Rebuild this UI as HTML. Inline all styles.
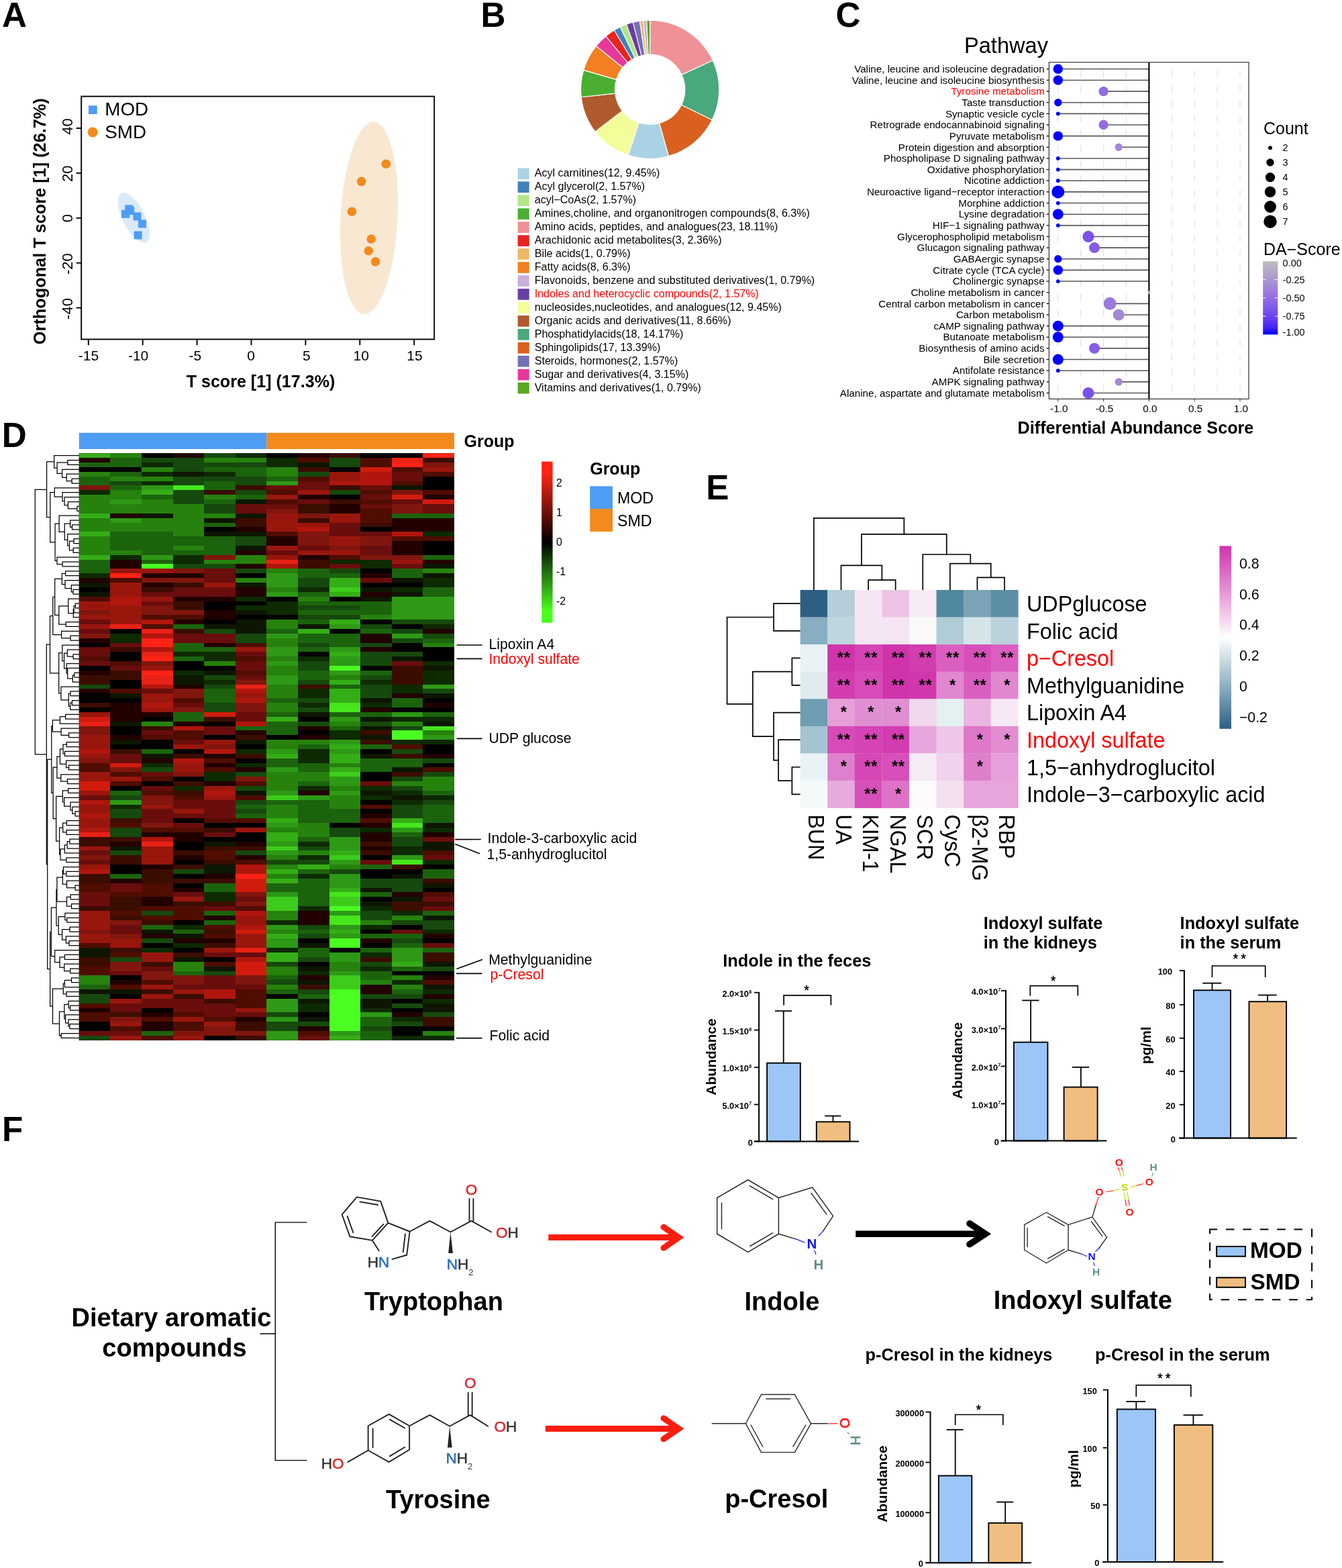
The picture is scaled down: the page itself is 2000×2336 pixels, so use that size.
<!DOCTYPE html>
<html lang="en"><head><meta charset="utf-8"><title>Figure</title>
<style>
html,body{margin:0;padding:0;background:#fff;}
body{width:2000px;height:2336px;overflow:hidden;}
svg{display:block;font-family:"Liberation Sans",sans-serif;}
</style></head><body>
<svg width="2000" height="2336" viewBox="0 0 2000 2336">
<rect width="2000" height="2336" fill="#fff"/>
<text x="3.10" y="40.10" font-size="51.2" font-weight="bold">A</text>
<text x="716.50" y="40.30" font-size="51.2" font-weight="bold">B</text>
<text x="1245.60" y="40.20" font-size="51.2" font-weight="bold">C</text>
<text x="2.70" y="666.30" font-size="51.2" font-weight="bold">D</text>
<text x="1052.30" y="744.10" font-size="51.2" font-weight="bold">E</text>
<text x="3.10" y="1700.10" font-size="51.2" font-weight="bold">F</text>
<g id="panelA"><ellipse cx="199.3" cy="324.4" rx="41" ry="16.5" fill="#d9eafa" transform="rotate(63 199.3 324.4)"/>
<ellipse cx="550" cy="324.8" rx="42.5" ry="143.5" fill="#f8e8d2" transform="rotate(3 550 324.8)"/>
<rect x="121.20" y="143.60" width="526.00" height="361.90" fill="none" stroke="#000" stroke-width="1.9"/>
<line x1="131.80" y1="505.50" x2="131.80" y2="514.30" stroke="#000" stroke-width="1.9"/>
<text x="131.90" y="536.70" font-size="21" text-anchor="middle">-15</text>
<line x1="212.70" y1="505.50" x2="212.70" y2="514.30" stroke="#000" stroke-width="1.9"/>
<text x="206.10" y="536.70" font-size="21" text-anchor="middle">-10</text>
<line x1="293.60" y1="505.50" x2="293.60" y2="514.30" stroke="#000" stroke-width="1.9"/>
<text x="290.90" y="536.70" font-size="21" text-anchor="middle">-5</text>
<line x1="374.50" y1="505.50" x2="374.50" y2="514.30" stroke="#000" stroke-width="1.9"/>
<text x="374.00" y="536.70" font-size="21" text-anchor="middle">0</text>
<line x1="455.40" y1="505.50" x2="455.40" y2="514.30" stroke="#000" stroke-width="1.9"/>
<text x="456.90" y="536.70" font-size="21" text-anchor="middle">5</text>
<line x1="536.30" y1="505.50" x2="536.30" y2="514.30" stroke="#000" stroke-width="1.9"/>
<text x="538.30" y="536.70" font-size="21" text-anchor="middle">10</text>
<line x1="617.20" y1="505.50" x2="617.20" y2="514.30" stroke="#000" stroke-width="1.9"/>
<text x="618.00" y="536.70" font-size="21" text-anchor="middle">15</text>
<line x1="113.60" y1="458.60" x2="121.20" y2="458.60" stroke="#000" stroke-width="1.9"/>
<text x="107.80" y="460.00" font-size="22" text-anchor="middle" transform="rotate(-90 107.80 460.00)">-40</text>
<line x1="113.60" y1="391.70" x2="121.20" y2="391.70" stroke="#000" stroke-width="1.9"/>
<text x="107.80" y="393.10" font-size="22" text-anchor="middle" transform="rotate(-90 107.80 393.10)">-20</text>
<line x1="113.60" y1="324.80" x2="121.20" y2="324.80" stroke="#000" stroke-width="1.9"/>
<text x="107.80" y="325.20" font-size="22" text-anchor="middle" transform="rotate(-90 107.80 325.20)">0</text>
<line x1="113.60" y1="257.90" x2="121.20" y2="257.90" stroke="#000" stroke-width="1.9"/>
<text x="107.80" y="258.70" font-size="22" text-anchor="middle" transform="rotate(-90 107.80 258.70)">20</text>
<line x1="113.60" y1="191.00" x2="121.20" y2="191.00" stroke="#000" stroke-width="1.9"/>
<text x="107.80" y="188.60" font-size="22" text-anchor="middle" transform="rotate(-90 107.80 188.60)">40</text>
<text x="388.50" y="577.00" font-size="25.1" text-anchor="middle" font-weight="bold">T score [1] (17.3%)</text>
<text x="67.60" y="329.70" font-size="25.3" text-anchor="middle" font-weight="bold" transform="rotate(-90 67.60 329.70)">Orthogonal T score [1] (26.7%)</text>
<rect x="132.00" y="157.30" width="12.70" height="12.70" fill="#4f9cf5"/>
<text x="156.30" y="171.90" font-size="27.8">MOD</text>
<circle cx="138.20" cy="197.00" r="7.60" fill="#f28a1e"/>
<text x="156.30" y="205.90" font-size="27.8">SMD</text>
<rect x="186.19" y="305.37" width="12.00" height="12.00" fill="#4f9cf5"/>
<rect x="181.06" y="312.86" width="12.00" height="12.00" fill="#4f9cf5"/>
<rect x="198.42" y="316.42" width="12.00" height="12.00" fill="#4f9cf5"/>
<rect x="205.92" y="327.46" width="12.00" height="12.00" fill="#4f9cf5"/>
<rect x="199.60" y="344.43" width="12.00" height="12.00" fill="#4f9cf5"/>
<rect x="188.16" y="308.13" width="12.00" height="12.00" fill="#4f9cf5"/>
<circle cx="575.37" cy="244.28" r="6.80" fill="#f28a1e"/>
<circle cx="538.67" cy="270.32" r="6.80" fill="#f28a1e"/>
<circle cx="524.47" cy="315.31" r="6.80" fill="#f28a1e"/>
<circle cx="553.28" cy="355.96" r="6.80" fill="#f28a1e"/>
<circle cx="549.33" cy="373.72" r="6.80" fill="#f28a1e"/>
<circle cx="559.59" cy="389.90" r="6.80" fill="#f28a1e"/></g>
<g id="panelB"><path d="M968.70 30.20A103.1 103.1 0 0 1 1062.29 90.05L1016.08 111.40A52.2 52.2 0 0 0 968.70 81.10Z" fill="#ef9298" stroke="#fff" stroke-width="1.1" stroke-linejoin="round"/>
<path d="M1062.29 90.05A103.1 103.1 0 0 1 1061.19 178.85L1015.53 156.36A52.2 52.2 0 0 0 1016.08 111.40Z" fill="#49a87c" stroke="#fff" stroke-width="1.1" stroke-linejoin="round"/>
<path d="M1061.19 178.85A103.1 103.1 0 0 1 996.41 232.61L982.73 183.58A52.2 52.2 0 0 0 1015.53 156.36Z" fill="#d9601f" stroke="#fff" stroke-width="1.1" stroke-linejoin="round"/>
<path d="M996.41 232.61A103.1 103.1 0 0 1 936.11 231.11L952.20 182.82A52.2 52.2 0 0 0 982.73 183.58Z" fill="#a9d3e5" stroke="#fff" stroke-width="1.1" stroke-linejoin="round"/>
<path d="M936.11 231.11A103.1 103.1 0 0 1 886.97 196.15L927.32 165.12A52.2 52.2 0 0 0 952.20 182.82Z" fill="#f3fd9a" stroke="#fff" stroke-width="1.1" stroke-linejoin="round"/>
<path d="M886.97 196.15A103.1 103.1 0 0 1 866.24 144.75L916.82 139.10A52.2 52.2 0 0 0 927.32 165.12Z" fill="#b05a2d" stroke="#fff" stroke-width="1.1" stroke-linejoin="round"/>
<path d="M866.24 144.75A103.1 103.1 0 0 1 869.74 104.36L918.60 118.65A52.2 52.2 0 0 0 916.82 139.10Z" fill="#4bae33" stroke="#fff" stroke-width="1.1" stroke-linejoin="round"/>
<path d="M869.74 104.36A103.1 103.1 0 0 1 888.55 68.45L928.12 100.47A52.2 52.2 0 0 0 918.60 118.65Z" fill="#f27f21" stroke="#fff" stroke-width="1.1" stroke-linejoin="round"/>
<path d="M888.55 68.45A103.1 103.1 0 0 1 902.86 53.96L935.37 93.13A52.2 52.2 0 0 0 928.12 100.47Z" fill="#e7379a" stroke="#fff" stroke-width="1.1" stroke-linejoin="round"/>
<path d="M902.86 53.96A103.1 103.1 0 0 1 915.32 45.09L941.67 88.64A52.2 52.2 0 0 0 935.37 93.13Z" fill="#e8241f" stroke="#fff" stroke-width="1.1" stroke-linejoin="round"/>
<path d="M915.32 45.09A103.1 103.1 0 0 1 924.30 40.25L946.22 86.19A52.2 52.2 0 0 0 941.67 88.64Z" fill="#4282b9" stroke="#fff" stroke-width="1.1" stroke-linejoin="round"/>
<path d="M924.30 40.25A103.1 103.1 0 0 1 933.70 36.32L950.98 84.20A52.2 52.2 0 0 0 946.22 86.19Z" fill="#b3e687" stroke="#fff" stroke-width="1.1" stroke-linejoin="round"/>
<path d="M933.70 36.32A103.1 103.1 0 0 1 943.46 33.34L955.92 82.69A52.2 52.2 0 0 0 950.98 84.20Z" fill="#6a3ea3" stroke="#fff" stroke-width="1.1" stroke-linejoin="round"/>
<path d="M943.46 33.34A103.1 103.1 0 0 1 953.45 31.33L960.98 81.67A52.2 52.2 0 0 0 955.92 82.69Z" fill="#7570b8" stroke="#fff" stroke-width="1.1" stroke-linejoin="round"/>
<path d="M953.45 31.33A103.1 103.1 0 0 1 958.52 30.70L963.54 81.36A52.2 52.2 0 0 0 960.98 81.67Z" fill="#ecb968" stroke="#fff" stroke-width="1.1" stroke-linejoin="round"/>
<path d="M958.52 30.70A103.1 103.1 0 0 1 963.60 30.33L966.12 81.16A52.2 52.2 0 0 0 963.54 81.36Z" fill="#c9b0db" stroke="#fff" stroke-width="1.1" stroke-linejoin="round"/>
<path d="M963.60 30.33A103.1 103.1 0 0 1 968.70 30.20L968.70 81.10A52.2 52.2 0 0 0 966.12 81.16Z" fill="#5aa81f" stroke="#fff" stroke-width="1.1" stroke-linejoin="round"/>
<rect x="771.60" y="250.50" width="17.10" height="16.60" fill="#a9d3e5"/>
<text x="796.70" y="263.30" font-size="16.08">Acyl carnitines(12, 9.45%)</text>
<rect x="771.60" y="270.46" width="17.10" height="16.60" fill="#4282b9"/>
<text x="796.70" y="283.26" font-size="16.08">Acyl glycerol(2, 1.57%)</text>
<rect x="771.60" y="290.42" width="17.10" height="16.60" fill="#b3e687"/>
<text x="796.70" y="303.22" font-size="16.08">acyl−CoAs(2, 1.57%)</text>
<rect x="771.60" y="310.38" width="17.10" height="16.60" fill="#4bae33"/>
<text x="796.70" y="323.18" font-size="16.08">Amines,choline, and organonitrogen compounds(8, 6.3%)</text>
<rect x="771.60" y="330.34" width="17.10" height="16.60" fill="#ef9298"/>
<text x="796.70" y="343.14" font-size="16.08">Amino acids, peptides, and analogues(23, 18.11%)</text>
<rect x="771.60" y="350.30" width="17.10" height="16.60" fill="#e8241f"/>
<text x="796.70" y="363.10" font-size="16.08">Arachidonic acid metabolites(3, 2.36%)</text>
<rect x="771.60" y="370.26" width="17.10" height="16.60" fill="#ecb968"/>
<text x="796.70" y="383.06" font-size="16.08">Bile acids(1, 0.79%)</text>
<rect x="771.60" y="390.22" width="17.10" height="16.60" fill="#f27f21"/>
<text x="796.70" y="403.02" font-size="16.08">Fatty acids(8, 6.3%)</text>
<rect x="771.60" y="410.18" width="17.10" height="16.60" fill="#c9b0db"/>
<text x="796.70" y="422.98" font-size="16.08">Flavonoids, benzene and substituted derivatives(1, 0.79%)</text>
<rect x="771.60" y="430.14" width="17.10" height="16.60" fill="#6a3ea3"/>
<text x="796.70" y="442.94" font-size="16.08" fill="#f00">Indoles and heterocyclic compounds(2, 1.57%)</text>
<rect x="771.60" y="450.10" width="17.10" height="16.60" fill="#f3fd9a"/>
<text x="796.70" y="462.90" font-size="16.08">nucleosides,nucleotides, and analogues(12, 9.45%)</text>
<rect x="771.60" y="470.06" width="17.10" height="16.60" fill="#b05a2d"/>
<text x="796.70" y="482.86" font-size="16.08">Organic acids and derivatives(11, 8.66%)</text>
<rect x="771.60" y="490.02" width="17.10" height="16.60" fill="#49a87c"/>
<text x="796.70" y="502.82" font-size="16.08">Phosphatidylacids(18, 14.17%)</text>
<rect x="771.60" y="509.98" width="17.10" height="16.60" fill="#d9601f"/>
<text x="796.70" y="522.78" font-size="16.08">Sphingolipids(17, 13.39%)</text>
<rect x="771.60" y="529.94" width="17.10" height="16.60" fill="#7570b8"/>
<text x="796.70" y="542.74" font-size="16.08">Steroids, hormones(2, 1.57%)</text>
<rect x="771.60" y="549.90" width="17.10" height="16.60" fill="#e7379a"/>
<text x="796.70" y="562.70" font-size="16.08">Sugar and derivatives(4, 3.15%)</text>
<rect x="771.60" y="569.86" width="17.10" height="16.60" fill="#5aa81f"/>
<text x="796.70" y="582.66" font-size="16.08">Vitamins and derivatives(1, 0.79%)</text></g>
<g id="panelC"><text x="1437.00" y="79.00" font-size="32.6">Pathway</text>
<line x1="1576.80" y1="105.30" x2="1576.80" y2="594.40" stroke="#dcdcdc" stroke-width="1" stroke-dasharray="10.5 11.7"/>
<line x1="1610.70" y1="105.30" x2="1610.70" y2="594.40" stroke="#dcdcdc" stroke-width="1" stroke-dasharray="10.5 11.7"/>
<line x1="1644.60" y1="105.30" x2="1644.60" y2="594.40" stroke="#dcdcdc" stroke-width="1" stroke-dasharray="10.5 11.7"/>
<line x1="1678.50" y1="105.30" x2="1678.50" y2="594.40" stroke="#dcdcdc" stroke-width="1" stroke-dasharray="10.5 11.7"/>
<line x1="1746.30" y1="105.30" x2="1746.30" y2="594.40" stroke="#dcdcdc" stroke-width="1" stroke-dasharray="10.5 11.7"/>
<line x1="1780.20" y1="105.30" x2="1780.20" y2="594.40" stroke="#dcdcdc" stroke-width="1" stroke-dasharray="10.5 11.7"/>
<line x1="1814.10" y1="105.30" x2="1814.10" y2="594.40" stroke="#dcdcdc" stroke-width="1" stroke-dasharray="10.5 11.7"/>
<line x1="1848.00" y1="105.30" x2="1848.00" y2="594.40" stroke="#dcdcdc" stroke-width="1" stroke-dasharray="10.5 11.7"/>
<line x1="1559.60" y1="102.80" x2="1563.40" y2="102.80" stroke="#111" stroke-width="1.3"/>
<text x="1556.60" y="108.00" font-size="15.2" text-anchor="end">Valine, leucine and isoleucine degradation</text>
<line x1="1576.80" y1="102.80" x2="1712.40" y2="102.80" stroke="#595959" stroke-width="1.6"/>
<line x1="1559.60" y1="119.44" x2="1563.40" y2="119.44" stroke="#111" stroke-width="1.3"/>
<text x="1556.60" y="124.64" font-size="15.2" text-anchor="end">Valine, leucine and isoleucine biosynthesis</text>
<line x1="1576.80" y1="119.44" x2="1712.40" y2="119.44" stroke="#595959" stroke-width="1.6"/>
<line x1="1559.60" y1="136.09" x2="1563.40" y2="136.09" stroke="#111" stroke-width="1.3"/>
<text x="1556.60" y="141.29" font-size="15.2" text-anchor="end" fill="#f00">Tyrosine metabolism</text>
<line x1="1644.60" y1="136.09" x2="1712.40" y2="136.09" stroke="#595959" stroke-width="1.6"/>
<line x1="1559.60" y1="152.74" x2="1563.40" y2="152.74" stroke="#111" stroke-width="1.3"/>
<text x="1556.60" y="157.94" font-size="15.2" text-anchor="end">Taste transduction</text>
<line x1="1576.80" y1="152.74" x2="1712.40" y2="152.74" stroke="#595959" stroke-width="1.6"/>
<line x1="1559.60" y1="169.38" x2="1563.40" y2="169.38" stroke="#111" stroke-width="1.3"/>
<text x="1556.60" y="174.58" font-size="15.2" text-anchor="end">Synaptic vesicle cycle</text>
<line x1="1576.80" y1="169.38" x2="1712.40" y2="169.38" stroke="#595959" stroke-width="1.6"/>
<line x1="1559.60" y1="186.02" x2="1563.40" y2="186.02" stroke="#111" stroke-width="1.3"/>
<text x="1556.60" y="191.22" font-size="15.2" text-anchor="end">Retrograde endocannabinoid signaling</text>
<line x1="1644.60" y1="186.02" x2="1712.40" y2="186.02" stroke="#595959" stroke-width="1.6"/>
<line x1="1559.60" y1="202.67" x2="1563.40" y2="202.67" stroke="#111" stroke-width="1.3"/>
<text x="1556.60" y="207.87" font-size="15.2" text-anchor="end">Pyruvate metabolism</text>
<line x1="1576.80" y1="202.67" x2="1712.40" y2="202.67" stroke="#595959" stroke-width="1.6"/>
<line x1="1559.60" y1="219.31" x2="1563.40" y2="219.31" stroke="#111" stroke-width="1.3"/>
<text x="1556.60" y="224.51" font-size="15.2" text-anchor="end">Protein digestion and absorption</text>
<line x1="1667.25" y1="219.31" x2="1712.40" y2="219.31" stroke="#595959" stroke-width="1.6"/>
<line x1="1559.60" y1="235.96" x2="1563.40" y2="235.96" stroke="#111" stroke-width="1.3"/>
<text x="1556.60" y="241.16" font-size="15.2" text-anchor="end">Phospholipase D signaling pathway</text>
<line x1="1576.80" y1="235.96" x2="1712.40" y2="235.96" stroke="#595959" stroke-width="1.6"/>
<line x1="1559.60" y1="252.61" x2="1563.40" y2="252.61" stroke="#111" stroke-width="1.3"/>
<text x="1556.60" y="257.81" font-size="15.2" text-anchor="end">Oxidative phosphorylation</text>
<line x1="1576.80" y1="252.61" x2="1712.40" y2="252.61" stroke="#595959" stroke-width="1.6"/>
<line x1="1559.60" y1="269.25" x2="1563.40" y2="269.25" stroke="#111" stroke-width="1.3"/>
<text x="1556.60" y="274.45" font-size="15.2" text-anchor="end">Nicotine addiction</text>
<line x1="1576.80" y1="269.25" x2="1712.40" y2="269.25" stroke="#595959" stroke-width="1.6"/>
<line x1="1559.60" y1="285.89" x2="1563.40" y2="285.89" stroke="#111" stroke-width="1.3"/>
<text x="1556.60" y="291.09" font-size="15.2" text-anchor="end">Neuroactive ligand−receptor interaction</text>
<line x1="1576.80" y1="285.89" x2="1712.40" y2="285.89" stroke="#595959" stroke-width="1.6"/>
<line x1="1559.60" y1="302.54" x2="1563.40" y2="302.54" stroke="#111" stroke-width="1.3"/>
<text x="1556.60" y="307.74" font-size="15.2" text-anchor="end">Morphine addiction</text>
<line x1="1576.80" y1="302.54" x2="1712.40" y2="302.54" stroke="#595959" stroke-width="1.6"/>
<line x1="1559.60" y1="319.19" x2="1563.40" y2="319.19" stroke="#111" stroke-width="1.3"/>
<text x="1556.60" y="324.38" font-size="15.2" text-anchor="end">Lysine degradation</text>
<line x1="1576.80" y1="319.19" x2="1712.40" y2="319.19" stroke="#595959" stroke-width="1.6"/>
<line x1="1559.60" y1="335.83" x2="1563.40" y2="335.83" stroke="#111" stroke-width="1.3"/>
<text x="1556.60" y="341.03" font-size="15.2" text-anchor="end">HIF−1 signaling pathway</text>
<line x1="1576.80" y1="335.83" x2="1712.40" y2="335.83" stroke="#595959" stroke-width="1.6"/>
<line x1="1559.60" y1="352.47" x2="1563.40" y2="352.47" stroke="#111" stroke-width="1.3"/>
<text x="1556.60" y="357.67" font-size="15.2" text-anchor="end">Glycerophospholipid metabolism</text>
<line x1="1621.95" y1="352.47" x2="1712.40" y2="352.47" stroke="#595959" stroke-width="1.6"/>
<line x1="1559.60" y1="369.12" x2="1563.40" y2="369.12" stroke="#111" stroke-width="1.3"/>
<text x="1556.60" y="374.32" font-size="15.2" text-anchor="end">Glucagon signaling pathway</text>
<line x1="1631.04" y1="369.12" x2="1712.40" y2="369.12" stroke="#595959" stroke-width="1.6"/>
<line x1="1559.60" y1="385.76" x2="1563.40" y2="385.76" stroke="#111" stroke-width="1.3"/>
<text x="1556.60" y="390.96" font-size="15.2" text-anchor="end">GABAergic synapse</text>
<line x1="1576.80" y1="385.76" x2="1712.40" y2="385.76" stroke="#595959" stroke-width="1.6"/>
<line x1="1559.60" y1="402.41" x2="1563.40" y2="402.41" stroke="#111" stroke-width="1.3"/>
<text x="1556.60" y="407.61" font-size="15.2" text-anchor="end">Citrate cycle (TCA cycle)</text>
<line x1="1576.80" y1="402.41" x2="1712.40" y2="402.41" stroke="#595959" stroke-width="1.6"/>
<line x1="1559.60" y1="419.06" x2="1563.40" y2="419.06" stroke="#111" stroke-width="1.3"/>
<text x="1556.60" y="424.25" font-size="15.2" text-anchor="end">Cholinergic synapse</text>
<line x1="1576.80" y1="419.06" x2="1712.40" y2="419.06" stroke="#595959" stroke-width="1.6"/>
<line x1="1559.60" y1="435.70" x2="1563.40" y2="435.70" stroke="#111" stroke-width="1.3"/>
<text x="1556.60" y="440.90" font-size="15.2" text-anchor="end">Choline metabolism in cancer</text>
<line x1="1559.60" y1="452.35" x2="1563.40" y2="452.35" stroke="#111" stroke-width="1.3"/>
<text x="1556.60" y="457.55" font-size="15.2" text-anchor="end">Central carbon metabolism in cancer</text>
<line x1="1654.09" y1="452.35" x2="1712.40" y2="452.35" stroke="#595959" stroke-width="1.6"/>
<line x1="1559.60" y1="468.99" x2="1563.40" y2="468.99" stroke="#111" stroke-width="1.3"/>
<text x="1556.60" y="474.19" font-size="15.2" text-anchor="end">Carbon metabolism</text>
<line x1="1667.25" y1="468.99" x2="1712.40" y2="468.99" stroke="#595959" stroke-width="1.6"/>
<line x1="1559.60" y1="485.63" x2="1563.40" y2="485.63" stroke="#111" stroke-width="1.3"/>
<text x="1556.60" y="490.83" font-size="15.2" text-anchor="end">cAMP signaling pathway</text>
<line x1="1576.80" y1="485.63" x2="1712.40" y2="485.63" stroke="#595959" stroke-width="1.6"/>
<line x1="1559.60" y1="502.28" x2="1563.40" y2="502.28" stroke="#111" stroke-width="1.3"/>
<text x="1556.60" y="507.48" font-size="15.2" text-anchor="end">Butanoate metabolism</text>
<line x1="1576.80" y1="502.28" x2="1712.40" y2="502.28" stroke="#595959" stroke-width="1.6"/>
<line x1="1559.60" y1="518.92" x2="1563.40" y2="518.92" stroke="#111" stroke-width="1.3"/>
<text x="1556.60" y="524.12" font-size="15.2" text-anchor="end">Biosynthesis of amino acids</text>
<line x1="1631.04" y1="518.92" x2="1712.40" y2="518.92" stroke="#595959" stroke-width="1.6"/>
<line x1="1559.60" y1="535.57" x2="1563.40" y2="535.57" stroke="#111" stroke-width="1.3"/>
<text x="1556.60" y="540.77" font-size="15.2" text-anchor="end">Bile secretion</text>
<line x1="1576.80" y1="535.57" x2="1712.40" y2="535.57" stroke="#595959" stroke-width="1.6"/>
<line x1="1559.60" y1="552.21" x2="1563.40" y2="552.21" stroke="#111" stroke-width="1.3"/>
<text x="1556.60" y="557.41" font-size="15.2" text-anchor="end">Antifolate resistance</text>
<line x1="1576.80" y1="552.21" x2="1712.40" y2="552.21" stroke="#595959" stroke-width="1.6"/>
<line x1="1559.60" y1="568.86" x2="1563.40" y2="568.86" stroke="#111" stroke-width="1.3"/>
<text x="1556.60" y="574.06" font-size="15.2" text-anchor="end">AMPK signaling pathway</text>
<line x1="1667.25" y1="568.86" x2="1712.40" y2="568.86" stroke="#595959" stroke-width="1.6"/>
<line x1="1559.60" y1="585.50" x2="1563.40" y2="585.50" stroke="#111" stroke-width="1.3"/>
<text x="1556.60" y="590.71" font-size="15.2" text-anchor="end">Alanine, aspartate and glutamate metabolism</text>
<line x1="1621.95" y1="585.50" x2="1712.40" y2="585.50" stroke="#595959" stroke-width="1.6"/>
<line x1="1712.40" y1="92.80" x2="1712.40" y2="594.40" stroke="#000" stroke-width="2.1"/>
<circle cx="1576.80" cy="102.80" r="7.20" fill="#0000ff"/>
<circle cx="1576.80" cy="119.44" r="7.20" fill="#0000ff"/>
<circle cx="1644.60" cy="136.09" r="7.20" fill="#926de1"/>
<circle cx="1576.80" cy="152.74" r="5.70" fill="#0000ff"/>
<circle cx="1576.80" cy="169.38" r="2.90" fill="#0000ff"/>
<circle cx="1644.60" cy="186.02" r="7.20" fill="#926de1"/>
<circle cx="1576.80" cy="202.67" r="7.20" fill="#0000ff"/>
<circle cx="1667.25" cy="219.31" r="5.70" fill="#a488d6"/>
<circle cx="1576.80" cy="235.96" r="2.90" fill="#0000ff"/>
<circle cx="1576.80" cy="252.61" r="2.90" fill="#0000ff"/>
<circle cx="1576.80" cy="269.25" r="2.90" fill="#0000ff"/>
<circle cx="1576.80" cy="285.89" r="9.50" fill="#0000ff"/>
<circle cx="1576.80" cy="302.54" r="2.90" fill="#0000ff"/>
<circle cx="1576.80" cy="319.19" r="8.00" fill="#0000ff"/>
<circle cx="1576.80" cy="335.83" r="2.90" fill="#0000ff"/>
<circle cx="1621.95" cy="352.47" r="8.60" fill="#7b51eb"/>
<circle cx="1631.04" cy="369.12" r="8.00" fill="#855de7"/>
<circle cx="1576.80" cy="385.76" r="5.70" fill="#0000ff"/>
<circle cx="1576.80" cy="402.41" r="7.20" fill="#0000ff"/>
<circle cx="1576.80" cy="419.06" r="2.90" fill="#0000ff"/>
<circle cx="1712.40" cy="435.70" r="2.20" fill="#bebebe"/>
<circle cx="1654.09" cy="452.35" r="9.50" fill="#9a79dc"/>
<circle cx="1667.25" cy="468.99" r="8.60" fill="#a488d6"/>
<circle cx="1576.80" cy="485.63" r="8.00" fill="#0000ff"/>
<circle cx="1576.80" cy="502.28" r="8.00" fill="#0000ff"/>
<circle cx="1631.04" cy="518.92" r="8.00" fill="#855de7"/>
<circle cx="1576.80" cy="535.57" r="8.00" fill="#0000ff"/>
<circle cx="1576.80" cy="552.21" r="2.90" fill="#0000ff"/>
<circle cx="1667.25" cy="568.86" r="5.70" fill="#a488d6"/>
<circle cx="1621.95" cy="585.50" r="8.60" fill="#7b51eb"/>
<rect x="1563.40" y="92.80" width="297.60" height="501.60" fill="none" stroke="#333" stroke-width="1.2"/>
<line x1="1576.80" y1="594.40" x2="1576.80" y2="598.40" stroke="#333" stroke-width="1"/>
<text x="1578.30" y="614.00" font-size="15.3" text-anchor="middle">-1.0</text>
<line x1="1644.60" y1="594.40" x2="1644.60" y2="598.40" stroke="#333" stroke-width="1"/>
<text x="1646.10" y="614.00" font-size="15.3" text-anchor="middle">-0.5</text>
<line x1="1712.40" y1="594.40" x2="1712.40" y2="598.40" stroke="#333" stroke-width="1"/>
<text x="1713.90" y="614.00" font-size="15.3" text-anchor="middle">0.0</text>
<line x1="1780.20" y1="594.40" x2="1780.20" y2="598.40" stroke="#333" stroke-width="1"/>
<text x="1781.70" y="614.00" font-size="15.3" text-anchor="middle">0.5</text>
<line x1="1848.00" y1="594.40" x2="1848.00" y2="598.40" stroke="#333" stroke-width="1"/>
<text x="1849.50" y="614.00" font-size="15.3" text-anchor="middle">1.0</text>
<text x="1692.50" y="645.50" font-size="25.2" text-anchor="middle" font-weight="bold">Differential Abundance Score</text>
<text x="1883.00" y="200.30" font-size="25">Count</text>
<circle cx="1893.00" cy="220.30" r="2.95" fill="#000"/>
<text x="1911.60" y="225.40" font-size="14.5">2</text>
<circle cx="1893.00" cy="242.00" r="5.70" fill="#000"/>
<text x="1911.60" y="247.10" font-size="14.5">3</text>
<circle cx="1893.00" cy="264.20" r="7.10" fill="#000"/>
<text x="1911.60" y="269.30" font-size="14.5">4</text>
<circle cx="1893.00" cy="285.90" r="8.20" fill="#000"/>
<text x="1911.60" y="291.00" font-size="14.5">5</text>
<circle cx="1893.00" cy="308.00" r="8.90" fill="#000"/>
<text x="1911.60" y="313.10" font-size="14.5">6</text>
<circle cx="1893.00" cy="330.20" r="9.70" fill="#000"/>
<text x="1911.60" y="335.30" font-size="14.5">7</text>
<text x="1883.00" y="379.70" font-size="25">DA−Score</text>
<defs><linearGradient id="dag" x1="0" y1="0" x2="0" y2="1"><stop offset="0.0" stop-color="#bebebe"/><stop offset="0.1" stop-color="#b7aec6"/><stop offset="0.2" stop-color="#b09ecd"/><stop offset="0.3" stop-color="#a78ed4"/><stop offset="0.4" stop-color="#9e7eda"/><stop offset="0.5" stop-color="#926de1"/><stop offset="0.6" stop-color="#855de7"/><stop offset="0.7" stop-color="#754ced"/><stop offset="0.8" stop-color="#6139f3"/><stop offset="0.9" stop-color="#4624f9"/><stop offset="1.0" stop-color="#0000ff"/></linearGradient></defs>
<rect x="1882.20" y="389.20" width="22.10" height="109.20" fill="url(#dag)"/>
<text x="1911.60" y="397.10" font-size="14.5">0.00</text>
<line x1="1882.20" y1="416.50" x2="1886.60" y2="416.50" stroke="#fff" stroke-width="1"/>
<line x1="1899.90" y1="416.50" x2="1904.30" y2="416.50" stroke="#fff" stroke-width="1"/>
<text x="1911.60" y="421.60" font-size="14.5">-0.25</text>
<line x1="1882.20" y1="443.80" x2="1886.60" y2="443.80" stroke="#fff" stroke-width="1"/>
<line x1="1899.90" y1="443.80" x2="1904.30" y2="443.80" stroke="#fff" stroke-width="1"/>
<text x="1911.60" y="448.90" font-size="14.5">-0.50</text>
<line x1="1882.20" y1="471.10" x2="1886.60" y2="471.10" stroke="#fff" stroke-width="1"/>
<line x1="1899.90" y1="471.10" x2="1904.30" y2="471.10" stroke="#fff" stroke-width="1"/>
<text x="1911.60" y="476.20" font-size="14.5">-0.75</text>
<text x="1911.60" y="500.10" font-size="14.5">-1.00</text></g>
<g id="panelD"><rect x="117.80" y="644.80" width="279.60" height="24.20" fill="#4f9cf5"/>
<rect x="397.40" y="644.80" width="279.60" height="24.20" fill="#f28a1e"/>
<text x="691.50" y="666.00" font-size="25" font-weight="bold">Group</text>
<rect x="117.80" y="675.20" width="559.20" height="874.60" fill="#000"/>
<defs><clipPath id="hmc"><rect x="117.80" y="675.20" width="559.20" height="874.60"/></clipPath><filter id="hmb" x="-5%" y="-5%" width="110%" height="110%"><feGaussianBlur stdDeviation="0.35 0.5"/></filter></defs>
<g clip-path="url(#hmc)"><g filter="url(#hmb)" shape-rendering="crispEdges"><rect x="107.80" y="665.20" width="579.20" height="894.60" fill="#000"/><rect x="117.80" y="675.20" width="47.20" height="7.49" fill="#34ad16"/><rect x="117.80" y="682.09" width="47.20" height="7.49" fill="#200402"/><rect x="117.80" y="688.97" width="47.20" height="7.49" fill="#1e630c"/><rect x="117.80" y="695.86" width="47.20" height="7.49" fill="#060404"/><rect x="117.80" y="702.75" width="47.20" height="7.49" fill="#278210"/><rect x="117.80" y="709.63" width="47.20" height="14.37" fill="#1e630c"/><rect x="117.80" y="723.41" width="47.20" height="7.49" fill="#80120a"/><rect x="117.80" y="730.29" width="47.20" height="7.49" fill="#0d2b05"/><rect x="117.80" y="737.18" width="47.20" height="28.15" fill="#278210"/><rect x="117.80" y="764.73" width="47.20" height="7.49" fill="#34ad16"/><rect x="117.80" y="771.61" width="47.20" height="21.26" fill="#278210"/><rect x="117.80" y="792.27" width="47.20" height="7.49" fill="#34ad16"/><rect x="117.80" y="799.16" width="47.20" height="28.15" fill="#278210"/><rect x="117.80" y="826.71" width="47.20" height="7.49" fill="#34ad16"/><rect x="117.80" y="833.59" width="47.20" height="21.26" fill="#1e630c"/><rect x="117.80" y="854.25" width="47.20" height="7.49" fill="#0d2b05"/><rect x="117.80" y="861.14" width="47.20" height="7.49" fill="#200402"/><rect x="117.80" y="868.03" width="47.20" height="7.49" fill="#071703"/><rect x="117.80" y="874.91" width="47.20" height="7.49" fill="#060404"/><rect x="117.80" y="881.80" width="47.20" height="7.49" fill="#071703"/><rect x="117.80" y="888.69" width="47.20" height="7.49" fill="#4f0b06"/><rect x="117.80" y="895.57" width="47.20" height="14.37" fill="#99160c"/><rect x="117.80" y="909.34" width="47.20" height="7.49" fill="#80120a"/><rect x="117.80" y="916.23" width="47.20" height="7.49" fill="#99160c"/><rect x="117.80" y="923.12" width="47.20" height="7.49" fill="#690f08"/><rect x="117.80" y="930.00" width="47.20" height="7.49" fill="#99160c"/><rect x="117.80" y="936.89" width="47.20" height="7.49" fill="#690f08"/><rect x="117.80" y="943.78" width="47.20" height="7.49" fill="#80120a"/><rect x="117.80" y="950.66" width="47.20" height="7.49" fill="#200402"/><rect x="117.80" y="957.55" width="47.20" height="7.49" fill="#060404"/><rect x="117.80" y="964.44" width="47.20" height="14.37" fill="#690f08"/><rect x="117.80" y="978.21" width="47.20" height="7.49" fill="#4f0b06"/><rect x="117.80" y="985.10" width="47.20" height="7.49" fill="#690f08"/><rect x="117.80" y="991.98" width="47.20" height="7.49" fill="#060404"/><rect x="117.80" y="998.87" width="47.20" height="7.49" fill="#200402"/><rect x="117.80" y="1005.76" width="47.20" height="14.37" fill="#3b0805"/><rect x="117.80" y="1019.53" width="47.20" height="7.49" fill="#164a09"/><rect x="117.80" y="1026.42" width="47.20" height="7.49" fill="#200402"/><rect x="117.80" y="1033.30" width="47.20" height="14.37" fill="#060404"/><rect x="117.80" y="1047.08" width="47.20" height="7.49" fill="#3b0805"/><rect x="117.80" y="1053.96" width="47.20" height="7.49" fill="#060404"/><rect x="117.80" y="1060.85" width="47.20" height="7.49" fill="#99160c"/><rect x="117.80" y="1067.74" width="47.20" height="7.49" fill="#d11e10"/><rect x="117.80" y="1074.62" width="47.20" height="7.49" fill="#e82112"/><rect x="117.80" y="1081.51" width="47.20" height="14.37" fill="#80120a"/><rect x="117.80" y="1095.28" width="47.20" height="21.26" fill="#99160c"/><rect x="117.80" y="1115.94" width="47.20" height="7.49" fill="#b0190e"/><rect x="117.80" y="1122.83" width="47.20" height="7.49" fill="#99160c"/><rect x="117.80" y="1129.72" width="47.20" height="7.49" fill="#80120a"/><rect x="117.80" y="1136.60" width="47.20" height="14.37" fill="#4f0b06"/><rect x="117.80" y="1150.38" width="47.20" height="14.37" fill="#99160c"/><rect x="117.80" y="1164.15" width="47.20" height="14.37" fill="#d11e10"/><rect x="117.80" y="1177.92" width="47.20" height="7.49" fill="#99160c"/><rect x="117.80" y="1184.81" width="47.20" height="7.49" fill="#690f08"/><rect x="117.80" y="1191.70" width="47.20" height="7.49" fill="#b0190e"/><rect x="117.80" y="1198.58" width="47.20" height="14.37" fill="#99160c"/><rect x="117.80" y="1212.36" width="47.20" height="7.49" fill="#b0190e"/><rect x="117.80" y="1219.24" width="47.20" height="14.37" fill="#99160c"/><rect x="117.80" y="1233.02" width="47.20" height="7.49" fill="#b0190e"/><rect x="117.80" y="1239.90" width="47.20" height="7.49" fill="#e82112"/><rect x="117.80" y="1246.79" width="47.20" height="14.37" fill="#3b0805"/><rect x="117.80" y="1260.56" width="47.20" height="7.49" fill="#99160c"/><rect x="117.80" y="1267.45" width="47.20" height="7.49" fill="#690f08"/><rect x="117.80" y="1274.34" width="47.20" height="7.49" fill="#80120a"/><rect x="117.80" y="1281.22" width="47.20" height="7.49" fill="#690f08"/><rect x="117.80" y="1288.11" width="47.20" height="7.49" fill="#99160c"/><rect x="117.80" y="1295.00" width="47.20" height="7.49" fill="#b0190e"/><rect x="117.80" y="1301.88" width="47.20" height="14.37" fill="#3b0805"/><rect x="117.80" y="1315.66" width="47.20" height="14.37" fill="#4f0b06"/><rect x="117.80" y="1329.43" width="47.20" height="21.26" fill="#690f08"/><rect x="117.80" y="1350.09" width="47.20" height="7.49" fill="#3b0805"/><rect x="117.80" y="1356.97" width="47.20" height="28.15" fill="#99160c"/><rect x="117.80" y="1384.52" width="47.20" height="7.49" fill="#80120a"/><rect x="117.80" y="1391.41" width="47.20" height="14.37" fill="#99160c"/><rect x="117.80" y="1405.18" width="47.20" height="7.49" fill="#4f0b06"/><rect x="117.80" y="1412.07" width="47.20" height="14.37" fill="#071703"/><rect x="117.80" y="1425.84" width="47.20" height="14.37" fill="#3b0805"/><rect x="117.80" y="1439.61" width="47.20" height="14.37" fill="#4f0b06"/><rect x="117.80" y="1453.39" width="47.20" height="14.37" fill="#278210"/><rect x="117.80" y="1467.16" width="47.20" height="7.49" fill="#1e630c"/><rect x="117.80" y="1474.05" width="47.20" height="7.49" fill="#071703"/><rect x="117.80" y="1480.93" width="47.20" height="14.37" fill="#164a09"/><rect x="117.80" y="1494.71" width="47.20" height="7.49" fill="#4f0b06"/><rect x="117.80" y="1501.59" width="47.20" height="7.49" fill="#200402"/><rect x="117.80" y="1508.48" width="47.20" height="14.37" fill="#4f0b06"/><rect x="117.80" y="1522.25" width="47.20" height="14.37" fill="#060404"/><rect x="117.80" y="1536.03" width="47.20" height="7.49" fill="#690f08"/><rect x="117.80" y="1542.91" width="47.20" height="7.49" fill="#164a09"/><rect x="164.40" y="675.20" width="47.20" height="7.49" fill="#278210"/><rect x="164.40" y="682.09" width="47.20" height="14.37" fill="#1e630c"/><rect x="164.40" y="695.86" width="47.20" height="7.49" fill="#060404"/><rect x="164.40" y="702.75" width="47.20" height="7.49" fill="#1e630c"/><rect x="164.40" y="709.63" width="47.20" height="7.49" fill="#278210"/><rect x="164.40" y="716.52" width="47.20" height="7.49" fill="#164a09"/><rect x="164.40" y="723.41" width="47.20" height="7.49" fill="#1e630c"/><rect x="164.40" y="730.29" width="47.20" height="14.37" fill="#278210"/><rect x="164.40" y="744.07" width="47.20" height="7.49" fill="#2e9913"/><rect x="164.40" y="750.95" width="47.20" height="14.37" fill="#278210"/><rect x="164.40" y="764.73" width="47.20" height="7.49" fill="#200402"/><rect x="164.40" y="771.61" width="47.20" height="7.49" fill="#2e9913"/><rect x="164.40" y="778.50" width="47.20" height="14.37" fill="#278210"/><rect x="164.40" y="792.27" width="47.20" height="28.15" fill="#1e630c"/><rect x="164.40" y="819.82" width="47.20" height="7.49" fill="#278210"/><rect x="164.40" y="826.71" width="47.20" height="7.49" fill="#0d2b05"/><rect x="164.40" y="833.59" width="47.20" height="14.37" fill="#200402"/><rect x="164.40" y="847.37" width="47.20" height="7.49" fill="#99160c"/><rect x="164.40" y="854.25" width="47.20" height="7.49" fill="#ff2414"/><rect x="164.40" y="861.14" width="47.20" height="7.49" fill="#4f0b06"/><rect x="164.40" y="868.03" width="47.20" height="21.26" fill="#99160c"/><rect x="164.40" y="888.69" width="47.20" height="14.37" fill="#b0190e"/><rect x="164.40" y="902.46" width="47.20" height="28.15" fill="#99160c"/><rect x="164.40" y="930.00" width="47.20" height="7.49" fill="#e82112"/><rect x="164.40" y="936.89" width="47.20" height="7.49" fill="#060404"/><rect x="164.40" y="943.78" width="47.20" height="14.37" fill="#0d2b05"/><rect x="164.40" y="957.55" width="47.20" height="7.49" fill="#690f08"/><rect x="164.40" y="964.44" width="47.20" height="7.49" fill="#3b0805"/><rect x="164.40" y="971.32" width="47.20" height="14.37" fill="#060404"/><rect x="164.40" y="985.10" width="47.20" height="7.49" fill="#4f0b06"/><rect x="164.40" y="991.98" width="47.20" height="7.49" fill="#690f08"/><rect x="164.40" y="998.87" width="47.20" height="14.37" fill="#3b0805"/><rect x="164.40" y="1012.64" width="47.20" height="14.37" fill="#060404"/><rect x="164.40" y="1026.42" width="47.20" height="7.49" fill="#4f0b06"/><rect x="164.40" y="1033.30" width="47.20" height="7.49" fill="#071703"/><rect x="164.40" y="1040.19" width="47.20" height="7.49" fill="#060404"/><rect x="164.40" y="1047.08" width="47.20" height="28.15" fill="#200402"/><rect x="164.40" y="1074.62" width="47.20" height="7.49" fill="#071703"/><rect x="164.40" y="1081.51" width="47.20" height="14.37" fill="#060404"/><rect x="164.40" y="1095.28" width="47.20" height="7.49" fill="#200402"/><rect x="164.40" y="1102.17" width="47.20" height="7.49" fill="#071703"/><rect x="164.40" y="1109.06" width="47.20" height="7.49" fill="#060404"/><rect x="164.40" y="1115.94" width="47.20" height="7.49" fill="#3b0805"/><rect x="164.40" y="1122.83" width="47.20" height="14.37" fill="#690f08"/><rect x="164.40" y="1136.60" width="47.20" height="7.49" fill="#d11e10"/><rect x="164.40" y="1143.49" width="47.20" height="7.49" fill="#80120a"/><rect x="164.40" y="1150.38" width="47.20" height="7.49" fill="#4f0b06"/><rect x="164.40" y="1157.26" width="47.20" height="7.49" fill="#99160c"/><rect x="164.40" y="1164.15" width="47.20" height="7.49" fill="#4f0b06"/><rect x="164.40" y="1171.04" width="47.20" height="7.49" fill="#060404"/><rect x="164.40" y="1177.92" width="47.20" height="7.49" fill="#1e630c"/><rect x="164.40" y="1184.81" width="47.20" height="7.49" fill="#164a09"/><rect x="164.40" y="1191.70" width="47.20" height="7.49" fill="#2e9913"/><rect x="164.40" y="1198.58" width="47.20" height="7.49" fill="#0d2b05"/><rect x="164.40" y="1205.47" width="47.20" height="14.37" fill="#164a09"/><rect x="164.40" y="1219.24" width="47.20" height="7.49" fill="#3b0805"/><rect x="164.40" y="1226.13" width="47.20" height="7.49" fill="#4f0b06"/><rect x="164.40" y="1233.02" width="47.20" height="14.37" fill="#164a09"/><rect x="164.40" y="1246.79" width="47.20" height="7.49" fill="#3b0805"/><rect x="164.40" y="1253.68" width="47.20" height="7.49" fill="#200402"/><rect x="164.40" y="1260.56" width="47.20" height="7.49" fill="#071703"/><rect x="164.40" y="1267.45" width="47.20" height="7.49" fill="#164a09"/><rect x="164.40" y="1274.34" width="47.20" height="14.37" fill="#3b0805"/><rect x="164.40" y="1288.11" width="47.20" height="14.37" fill="#060404"/><rect x="164.40" y="1301.88" width="47.20" height="7.49" fill="#1e630c"/><rect x="164.40" y="1308.77" width="47.20" height="7.49" fill="#200402"/><rect x="164.40" y="1315.66" width="47.20" height="14.37" fill="#690f08"/><rect x="164.40" y="1329.43" width="47.20" height="7.49" fill="#4f0b06"/><rect x="164.40" y="1336.31" width="47.20" height="21.26" fill="#3b0805"/><rect x="164.40" y="1356.97" width="47.20" height="7.49" fill="#4f0b06"/><rect x="164.40" y="1363.86" width="47.20" height="7.49" fill="#3b0805"/><rect x="164.40" y="1370.75" width="47.20" height="7.49" fill="#80120a"/><rect x="164.40" y="1377.63" width="47.20" height="14.37" fill="#690f08"/><rect x="164.40" y="1391.41" width="47.20" height="7.49" fill="#80120a"/><rect x="164.40" y="1398.29" width="47.20" height="14.37" fill="#99160c"/><rect x="164.40" y="1412.07" width="47.20" height="7.49" fill="#3b0805"/><rect x="164.40" y="1418.95" width="47.20" height="7.49" fill="#4f0b06"/><rect x="164.40" y="1425.84" width="47.20" height="7.49" fill="#164a09"/><rect x="164.40" y="1432.73" width="47.20" height="14.37" fill="#80120a"/><rect x="164.40" y="1446.50" width="47.20" height="7.49" fill="#690f08"/><rect x="164.40" y="1453.39" width="47.20" height="7.49" fill="#060404"/><rect x="164.40" y="1460.27" width="47.20" height="7.49" fill="#200402"/><rect x="164.40" y="1467.16" width="47.20" height="7.49" fill="#4f0b06"/><rect x="164.40" y="1474.05" width="47.20" height="7.49" fill="#071703"/><rect x="164.40" y="1480.93" width="47.20" height="7.49" fill="#060404"/><rect x="164.40" y="1487.82" width="47.20" height="7.49" fill="#99160c"/><rect x="164.40" y="1494.71" width="47.20" height="14.37" fill="#690f08"/><rect x="164.40" y="1508.48" width="47.20" height="7.49" fill="#3b0805"/><rect x="164.40" y="1515.37" width="47.20" height="7.49" fill="#80120a"/><rect x="164.40" y="1522.25" width="47.20" height="7.49" fill="#99160c"/><rect x="164.40" y="1529.14" width="47.20" height="7.49" fill="#4f0b06"/><rect x="164.40" y="1536.03" width="47.20" height="7.49" fill="#690f08"/><rect x="164.40" y="1542.91" width="47.20" height="7.49" fill="#99160c"/><rect x="211.00" y="675.20" width="47.20" height="7.49" fill="#060404"/><rect x="211.00" y="682.09" width="47.20" height="7.49" fill="#164a09"/><rect x="211.00" y="688.97" width="47.20" height="7.49" fill="#0d2b05"/><rect x="211.00" y="695.86" width="47.20" height="7.49" fill="#278210"/><rect x="211.00" y="702.75" width="47.20" height="7.49" fill="#0d2b05"/><rect x="211.00" y="709.63" width="47.20" height="7.49" fill="#278210"/><rect x="211.00" y="716.52" width="47.20" height="7.49" fill="#0d2b05"/><rect x="211.00" y="723.41" width="47.20" height="7.49" fill="#2e9913"/><rect x="211.00" y="730.29" width="47.20" height="7.49" fill="#34ad16"/><rect x="211.00" y="737.18" width="47.20" height="7.49" fill="#1e630c"/><rect x="211.00" y="744.07" width="47.20" height="21.26" fill="#278210"/><rect x="211.00" y="764.73" width="47.20" height="7.49" fill="#071703"/><rect x="211.00" y="771.61" width="47.20" height="21.26" fill="#278210"/><rect x="211.00" y="792.27" width="47.20" height="35.03" fill="#1e630c"/><rect x="211.00" y="826.71" width="47.20" height="7.49" fill="#2e9913"/><rect x="211.00" y="833.59" width="47.20" height="7.49" fill="#1e630c"/><rect x="211.00" y="840.48" width="47.20" height="7.49" fill="#4cff20"/><rect x="211.00" y="847.37" width="47.20" height="7.49" fill="#99160c"/><rect x="211.00" y="854.25" width="47.20" height="7.49" fill="#200402"/><rect x="211.00" y="861.14" width="47.20" height="7.49" fill="#80120a"/><rect x="211.00" y="868.03" width="47.20" height="7.49" fill="#200402"/><rect x="211.00" y="874.91" width="47.20" height="7.49" fill="#3b0805"/><rect x="211.00" y="881.80" width="47.20" height="7.49" fill="#690f08"/><rect x="211.00" y="888.69" width="47.20" height="7.49" fill="#99160c"/><rect x="211.00" y="895.57" width="47.20" height="7.49" fill="#690f08"/><rect x="211.00" y="902.46" width="47.20" height="14.37" fill="#80120a"/><rect x="211.00" y="916.23" width="47.20" height="7.49" fill="#4f0b06"/><rect x="211.00" y="923.12" width="47.20" height="7.49" fill="#b0190e"/><rect x="211.00" y="930.00" width="47.20" height="7.49" fill="#4f0b06"/><rect x="211.00" y="936.89" width="47.20" height="7.49" fill="#e82112"/><rect x="211.00" y="943.78" width="47.20" height="7.49" fill="#b0190e"/><rect x="211.00" y="950.66" width="47.20" height="14.37" fill="#ff2414"/><rect x="211.00" y="964.44" width="47.20" height="7.49" fill="#b0190e"/><rect x="211.00" y="971.32" width="47.20" height="7.49" fill="#e82112"/><rect x="211.00" y="978.21" width="47.20" height="7.49" fill="#ff2414"/><rect x="211.00" y="985.10" width="47.20" height="7.49" fill="#80120a"/><rect x="211.00" y="991.98" width="47.20" height="7.49" fill="#99160c"/><rect x="211.00" y="998.87" width="47.20" height="7.49" fill="#ff2414"/><rect x="211.00" y="1005.76" width="47.20" height="14.37" fill="#e82112"/><rect x="211.00" y="1019.53" width="47.20" height="7.49" fill="#b0190e"/><rect x="211.00" y="1026.42" width="47.20" height="7.49" fill="#690f08"/><rect x="211.00" y="1033.30" width="47.20" height="14.37" fill="#99160c"/><rect x="211.00" y="1047.08" width="47.20" height="7.49" fill="#b0190e"/><rect x="211.00" y="1053.96" width="47.20" height="7.49" fill="#99160c"/><rect x="211.00" y="1060.85" width="47.20" height="7.49" fill="#200402"/><rect x="211.00" y="1067.74" width="47.20" height="7.49" fill="#060404"/><rect x="211.00" y="1074.62" width="47.20" height="7.49" fill="#278210"/><rect x="211.00" y="1081.51" width="47.20" height="7.49" fill="#3b0805"/><rect x="211.00" y="1088.40" width="47.20" height="7.49" fill="#690f08"/><rect x="211.00" y="1095.28" width="47.20" height="7.49" fill="#4f0b06"/><rect x="211.00" y="1102.17" width="47.20" height="14.37" fill="#060404"/><rect x="211.00" y="1115.94" width="47.20" height="7.49" fill="#1e630c"/><rect x="211.00" y="1122.83" width="47.20" height="7.49" fill="#071703"/><rect x="211.00" y="1129.72" width="47.20" height="7.49" fill="#200402"/><rect x="211.00" y="1136.60" width="47.20" height="7.49" fill="#0d2b05"/><rect x="211.00" y="1143.49" width="47.20" height="7.49" fill="#164a09"/><rect x="211.00" y="1150.38" width="47.20" height="7.49" fill="#690f08"/><rect x="211.00" y="1157.26" width="47.20" height="7.49" fill="#4f0b06"/><rect x="211.00" y="1164.15" width="47.20" height="7.49" fill="#060404"/><rect x="211.00" y="1171.04" width="47.20" height="7.49" fill="#690f08"/><rect x="211.00" y="1177.92" width="47.20" height="7.49" fill="#4f0b06"/><rect x="211.00" y="1184.81" width="47.20" height="14.37" fill="#80120a"/><rect x="211.00" y="1198.58" width="47.20" height="7.49" fill="#99160c"/><rect x="211.00" y="1205.47" width="47.20" height="21.26" fill="#690f08"/><rect x="211.00" y="1226.13" width="47.20" height="7.49" fill="#80120a"/><rect x="211.00" y="1233.02" width="47.20" height="7.49" fill="#4f0b06"/><rect x="211.00" y="1239.90" width="47.20" height="7.49" fill="#200402"/><rect x="211.00" y="1246.79" width="47.20" height="7.49" fill="#b0190e"/><rect x="211.00" y="1253.68" width="47.20" height="7.49" fill="#e82112"/><rect x="211.00" y="1260.56" width="47.20" height="28.15" fill="#99160c"/><rect x="211.00" y="1288.11" width="47.20" height="7.49" fill="#200402"/><rect x="211.00" y="1295.00" width="47.20" height="21.26" fill="#3b0805"/><rect x="211.00" y="1315.66" width="47.20" height="21.26" fill="#4f0b06"/><rect x="211.00" y="1336.31" width="47.20" height="14.37" fill="#200402"/><rect x="211.00" y="1350.09" width="47.20" height="7.49" fill="#4f0b06"/><rect x="211.00" y="1356.97" width="47.20" height="7.49" fill="#164a09"/><rect x="211.00" y="1363.86" width="47.20" height="7.49" fill="#4f0b06"/><rect x="211.00" y="1370.75" width="47.20" height="7.49" fill="#3b0805"/><rect x="211.00" y="1377.63" width="47.20" height="7.49" fill="#1e630c"/><rect x="211.00" y="1384.52" width="47.20" height="7.49" fill="#071703"/><rect x="211.00" y="1391.41" width="47.20" height="7.49" fill="#200402"/><rect x="211.00" y="1398.29" width="47.20" height="7.49" fill="#164a09"/><rect x="211.00" y="1405.18" width="47.20" height="7.49" fill="#060404"/><rect x="211.00" y="1412.07" width="47.20" height="7.49" fill="#0d2b05"/><rect x="211.00" y="1418.95" width="47.20" height="14.37" fill="#99160c"/><rect x="211.00" y="1432.73" width="47.20" height="7.49" fill="#3b0805"/><rect x="211.00" y="1439.61" width="47.20" height="7.49" fill="#690f08"/><rect x="211.00" y="1446.50" width="47.20" height="14.37" fill="#80120a"/><rect x="211.00" y="1460.27" width="47.20" height="7.49" fill="#4f0b06"/><rect x="211.00" y="1467.16" width="47.20" height="7.49" fill="#99160c"/><rect x="211.00" y="1474.05" width="47.20" height="7.49" fill="#3b0805"/><rect x="211.00" y="1480.93" width="47.20" height="7.49" fill="#99160c"/><rect x="211.00" y="1487.82" width="47.20" height="14.37" fill="#690f08"/><rect x="211.00" y="1501.59" width="47.20" height="7.49" fill="#060404"/><rect x="211.00" y="1508.48" width="47.20" height="7.49" fill="#200402"/><rect x="211.00" y="1515.37" width="47.20" height="7.49" fill="#4f0b06"/><rect x="211.00" y="1522.25" width="47.20" height="14.37" fill="#200402"/><rect x="211.00" y="1536.03" width="47.20" height="7.49" fill="#1e630c"/><rect x="211.00" y="1542.91" width="47.20" height="7.49" fill="#4f0b06"/><rect x="257.60" y="675.20" width="47.20" height="7.49" fill="#200402"/><rect x="257.60" y="682.09" width="47.20" height="21.26" fill="#164a09"/><rect x="257.60" y="702.75" width="47.20" height="7.49" fill="#071703"/><rect x="257.60" y="709.63" width="47.20" height="14.37" fill="#164a09"/><rect x="257.60" y="723.41" width="47.20" height="7.49" fill="#44e61d"/><rect x="257.60" y="730.29" width="47.20" height="21.26" fill="#164a09"/><rect x="257.60" y="750.95" width="47.20" height="48.81" fill="#278210"/><rect x="257.60" y="799.16" width="47.20" height="14.37" fill="#1e630c"/><rect x="257.60" y="812.93" width="47.20" height="7.49" fill="#278210"/><rect x="257.60" y="819.82" width="47.20" height="7.49" fill="#1e630c"/><rect x="257.60" y="826.71" width="47.20" height="14.37" fill="#0d2b05"/><rect x="257.60" y="840.48" width="47.20" height="7.49" fill="#164a09"/><rect x="257.60" y="847.37" width="47.20" height="7.49" fill="#80120a"/><rect x="257.60" y="854.25" width="47.20" height="7.49" fill="#200402"/><rect x="257.60" y="861.14" width="47.20" height="7.49" fill="#80120a"/><rect x="257.60" y="868.03" width="47.20" height="7.49" fill="#3b0805"/><rect x="257.60" y="874.91" width="47.20" height="14.37" fill="#690f08"/><rect x="257.60" y="888.69" width="47.20" height="7.49" fill="#200402"/><rect x="257.60" y="895.57" width="47.20" height="14.37" fill="#3b0805"/><rect x="257.60" y="909.34" width="47.20" height="7.49" fill="#80120a"/><rect x="257.60" y="916.23" width="47.20" height="7.49" fill="#4f0b06"/><rect x="257.60" y="923.12" width="47.20" height="7.49" fill="#200402"/><rect x="257.60" y="930.00" width="47.20" height="7.49" fill="#1e630c"/><rect x="257.60" y="936.89" width="47.20" height="7.49" fill="#3b0805"/><rect x="257.60" y="943.78" width="47.20" height="14.37" fill="#690f08"/><rect x="257.60" y="957.55" width="47.20" height="14.37" fill="#1e630c"/><rect x="257.60" y="971.32" width="47.20" height="7.49" fill="#0d2b05"/><rect x="257.60" y="978.21" width="47.20" height="7.49" fill="#1e630c"/><rect x="257.60" y="985.10" width="47.20" height="14.37" fill="#060404"/><rect x="257.60" y="998.87" width="47.20" height="7.49" fill="#0d2b05"/><rect x="257.60" y="1005.76" width="47.20" height="14.37" fill="#071703"/><rect x="257.60" y="1019.53" width="47.20" height="7.49" fill="#200402"/><rect x="257.60" y="1026.42" width="47.20" height="14.37" fill="#80120a"/><rect x="257.60" y="1040.19" width="47.20" height="7.49" fill="#4f0b06"/><rect x="257.60" y="1047.08" width="47.20" height="7.49" fill="#690f08"/><rect x="257.60" y="1053.96" width="47.20" height="7.49" fill="#80120a"/><rect x="257.60" y="1060.85" width="47.20" height="14.37" fill="#1e630c"/><rect x="257.60" y="1074.62" width="47.20" height="7.49" fill="#200402"/><rect x="257.60" y="1081.51" width="47.20" height="7.49" fill="#b0190e"/><rect x="257.60" y="1088.40" width="47.20" height="14.37" fill="#4f0b06"/><rect x="257.60" y="1102.17" width="47.20" height="7.49" fill="#690f08"/><rect x="257.60" y="1109.06" width="47.20" height="7.49" fill="#99160c"/><rect x="257.60" y="1115.94" width="47.20" height="7.49" fill="#060404"/><rect x="257.60" y="1122.83" width="47.20" height="7.49" fill="#3b0805"/><rect x="257.60" y="1129.72" width="47.20" height="7.49" fill="#b0190e"/><rect x="257.60" y="1136.60" width="47.20" height="14.37" fill="#99160c"/><rect x="257.60" y="1150.38" width="47.20" height="7.49" fill="#80120a"/><rect x="257.60" y="1157.26" width="47.20" height="7.49" fill="#060404"/><rect x="257.60" y="1164.15" width="47.20" height="7.49" fill="#3b0805"/><rect x="257.60" y="1171.04" width="47.20" height="7.49" fill="#0d2b05"/><rect x="257.60" y="1177.92" width="47.20" height="7.49" fill="#3b0805"/><rect x="257.60" y="1184.81" width="47.20" height="7.49" fill="#4f0b06"/><rect x="257.60" y="1191.70" width="47.20" height="14.37" fill="#690f08"/><rect x="257.60" y="1205.47" width="47.20" height="7.49" fill="#99160c"/><rect x="257.60" y="1212.36" width="47.20" height="7.49" fill="#690f08"/><rect x="257.60" y="1219.24" width="47.20" height="7.49" fill="#060404"/><rect x="257.60" y="1226.13" width="47.20" height="7.49" fill="#690f08"/><rect x="257.60" y="1233.02" width="47.20" height="7.49" fill="#4f0b06"/><rect x="257.60" y="1239.90" width="47.20" height="14.37" fill="#200402"/><rect x="257.60" y="1253.68" width="47.20" height="14.37" fill="#060404"/><rect x="257.60" y="1267.45" width="47.20" height="7.49" fill="#3b0805"/><rect x="257.60" y="1274.34" width="47.20" height="7.49" fill="#200402"/><rect x="257.60" y="1281.22" width="47.20" height="7.49" fill="#060404"/><rect x="257.60" y="1288.11" width="47.20" height="7.49" fill="#3b0805"/><rect x="257.60" y="1295.00" width="47.20" height="7.49" fill="#164a09"/><rect x="257.60" y="1301.88" width="47.20" height="7.49" fill="#060404"/><rect x="257.60" y="1308.77" width="47.20" height="7.49" fill="#3b0805"/><rect x="257.60" y="1315.66" width="47.20" height="7.49" fill="#060404"/><rect x="257.60" y="1322.54" width="47.20" height="7.49" fill="#200402"/><rect x="257.60" y="1329.43" width="47.20" height="7.49" fill="#690f08"/><rect x="257.60" y="1336.31" width="47.20" height="7.49" fill="#99160c"/><rect x="257.60" y="1343.20" width="47.20" height="7.49" fill="#3b0805"/><rect x="257.60" y="1350.09" width="47.20" height="21.26" fill="#4f0b06"/><rect x="257.60" y="1370.75" width="47.20" height="7.49" fill="#060404"/><rect x="257.60" y="1377.63" width="47.20" height="7.49" fill="#0d2b05"/><rect x="257.60" y="1384.52" width="47.20" height="7.49" fill="#1e630c"/><rect x="257.60" y="1391.41" width="47.20" height="7.49" fill="#071703"/><rect x="257.60" y="1398.29" width="47.20" height="7.49" fill="#200402"/><rect x="257.60" y="1405.18" width="47.20" height="7.49" fill="#0d2b05"/><rect x="257.60" y="1412.07" width="47.20" height="7.49" fill="#060404"/><rect x="257.60" y="1418.95" width="47.20" height="7.49" fill="#3b0805"/><rect x="257.60" y="1425.84" width="47.20" height="7.49" fill="#071703"/><rect x="257.60" y="1432.73" width="47.20" height="14.37" fill="#278210"/><rect x="257.60" y="1446.50" width="47.20" height="7.49" fill="#1e630c"/><rect x="257.60" y="1453.39" width="47.20" height="14.37" fill="#80120a"/><rect x="257.60" y="1467.16" width="47.20" height="7.49" fill="#690f08"/><rect x="257.60" y="1474.05" width="47.20" height="7.49" fill="#99160c"/><rect x="257.60" y="1480.93" width="47.20" height="7.49" fill="#3b0805"/><rect x="257.60" y="1487.82" width="47.20" height="21.26" fill="#690f08"/><rect x="257.60" y="1508.48" width="47.20" height="7.49" fill="#4f0b06"/><rect x="257.60" y="1515.37" width="47.20" height="7.49" fill="#99160c"/><rect x="257.60" y="1522.25" width="47.20" height="14.37" fill="#4f0b06"/><rect x="257.60" y="1536.03" width="47.20" height="7.49" fill="#80120a"/><rect x="257.60" y="1542.91" width="47.20" height="7.49" fill="#99160c"/><rect x="304.20" y="675.20" width="47.20" height="7.49" fill="#164a09"/><rect x="304.20" y="682.09" width="47.20" height="7.49" fill="#278210"/><rect x="304.20" y="688.97" width="47.20" height="7.49" fill="#164a09"/><rect x="304.20" y="695.86" width="47.20" height="7.49" fill="#1e630c"/><rect x="304.20" y="702.75" width="47.20" height="7.49" fill="#0d2b05"/><rect x="304.20" y="709.63" width="47.20" height="7.49" fill="#164a09"/><rect x="304.20" y="716.52" width="47.20" height="14.37" fill="#1e630c"/><rect x="304.20" y="730.29" width="47.20" height="7.49" fill="#3b0805"/><rect x="304.20" y="737.18" width="47.20" height="7.49" fill="#278210"/><rect x="304.20" y="744.07" width="47.20" height="7.49" fill="#1e630c"/><rect x="304.20" y="750.95" width="47.20" height="14.37" fill="#164a09"/><rect x="304.20" y="764.73" width="47.20" height="7.49" fill="#278210"/><rect x="304.20" y="771.61" width="47.20" height="7.49" fill="#071703"/><rect x="304.20" y="778.50" width="47.20" height="7.49" fill="#1e630c"/><rect x="304.20" y="785.39" width="47.20" height="7.49" fill="#060404"/><rect x="304.20" y="792.27" width="47.20" height="7.49" fill="#071703"/><rect x="304.20" y="799.16" width="47.20" height="28.15" fill="#1e630c"/><rect x="304.20" y="826.71" width="47.20" height="7.49" fill="#80120a"/><rect x="304.20" y="833.59" width="47.20" height="7.49" fill="#278210"/><rect x="304.20" y="840.48" width="47.20" height="7.49" fill="#164a09"/><rect x="304.20" y="847.37" width="47.20" height="21.26" fill="#690f08"/><rect x="304.20" y="868.03" width="47.20" height="7.49" fill="#99160c"/><rect x="304.20" y="874.91" width="47.20" height="14.37" fill="#690f08"/><rect x="304.20" y="888.69" width="47.20" height="7.49" fill="#200402"/><rect x="304.20" y="895.57" width="47.20" height="14.37" fill="#060404"/><rect x="304.20" y="909.34" width="47.20" height="14.37" fill="#200402"/><rect x="304.20" y="923.12" width="47.20" height="7.49" fill="#060404"/><rect x="304.20" y="930.00" width="47.20" height="7.49" fill="#071703"/><rect x="304.20" y="936.89" width="47.20" height="7.49" fill="#164a09"/><rect x="304.20" y="943.78" width="47.20" height="14.37" fill="#690f08"/><rect x="304.20" y="957.55" width="47.20" height="7.49" fill="#200402"/><rect x="304.20" y="964.44" width="47.20" height="7.49" fill="#1e630c"/><rect x="304.20" y="971.32" width="47.20" height="14.37" fill="#0d2b05"/><rect x="304.20" y="985.10" width="47.20" height="7.49" fill="#278210"/><rect x="304.20" y="991.98" width="47.20" height="7.49" fill="#060404"/><rect x="304.20" y="998.87" width="47.20" height="7.49" fill="#071703"/><rect x="304.20" y="1005.76" width="47.20" height="7.49" fill="#164a09"/><rect x="304.20" y="1012.64" width="47.20" height="7.49" fill="#0d2b05"/><rect x="304.20" y="1019.53" width="47.20" height="7.49" fill="#164a09"/><rect x="304.20" y="1026.42" width="47.20" height="21.26" fill="#1e630c"/><rect x="304.20" y="1047.08" width="47.20" height="14.37" fill="#164a09"/><rect x="304.20" y="1060.85" width="47.20" height="7.49" fill="#d11e10"/><rect x="304.20" y="1067.74" width="47.20" height="7.49" fill="#3b0805"/><rect x="304.20" y="1074.62" width="47.20" height="7.49" fill="#060404"/><rect x="304.20" y="1081.51" width="47.20" height="14.37" fill="#690f08"/><rect x="304.20" y="1095.28" width="47.20" height="7.49" fill="#060404"/><rect x="304.20" y="1102.17" width="47.20" height="7.49" fill="#99160c"/><rect x="304.20" y="1109.06" width="47.20" height="7.49" fill="#80120a"/><rect x="304.20" y="1115.94" width="47.20" height="7.49" fill="#b0190e"/><rect x="304.20" y="1122.83" width="47.20" height="7.49" fill="#200402"/><rect x="304.20" y="1129.72" width="47.20" height="7.49" fill="#4f0b06"/><rect x="304.20" y="1136.60" width="47.20" height="7.49" fill="#200402"/><rect x="304.20" y="1143.49" width="47.20" height="7.49" fill="#4f0b06"/><rect x="304.20" y="1150.38" width="47.20" height="14.37" fill="#0d2b05"/><rect x="304.20" y="1164.15" width="47.20" height="7.49" fill="#200402"/><rect x="304.20" y="1171.04" width="47.20" height="7.49" fill="#99160c"/><rect x="304.20" y="1177.92" width="47.20" height="7.49" fill="#b0190e"/><rect x="304.20" y="1184.81" width="47.20" height="7.49" fill="#99160c"/><rect x="304.20" y="1191.70" width="47.20" height="28.15" fill="#690f08"/><rect x="304.20" y="1219.24" width="47.20" height="7.49" fill="#4f0b06"/><rect x="304.20" y="1226.13" width="47.20" height="7.49" fill="#060404"/><rect x="304.20" y="1233.02" width="47.20" height="7.49" fill="#3b0805"/><rect x="304.20" y="1239.90" width="47.20" height="7.49" fill="#690f08"/><rect x="304.20" y="1246.79" width="47.20" height="7.49" fill="#060404"/><rect x="304.20" y="1253.68" width="47.20" height="7.49" fill="#071703"/><rect x="304.20" y="1260.56" width="47.20" height="7.49" fill="#3b0805"/><rect x="304.20" y="1267.45" width="47.20" height="14.37" fill="#4f0b06"/><rect x="304.20" y="1281.22" width="47.20" height="7.49" fill="#3b0805"/><rect x="304.20" y="1288.11" width="47.20" height="14.37" fill="#071703"/><rect x="304.20" y="1301.88" width="47.20" height="7.49" fill="#200402"/><rect x="304.20" y="1308.77" width="47.20" height="7.49" fill="#3b0805"/><rect x="304.20" y="1315.66" width="47.20" height="14.37" fill="#1e630c"/><rect x="304.20" y="1329.43" width="47.20" height="14.37" fill="#0d2b05"/><rect x="304.20" y="1343.20" width="47.20" height="7.49" fill="#3b0805"/><rect x="304.20" y="1350.09" width="47.20" height="7.49" fill="#690f08"/><rect x="304.20" y="1356.97" width="47.20" height="7.49" fill="#1e630c"/><rect x="304.20" y="1363.86" width="47.20" height="7.49" fill="#200402"/><rect x="304.20" y="1370.75" width="47.20" height="7.49" fill="#1e630c"/><rect x="304.20" y="1377.63" width="47.20" height="7.49" fill="#4f0b06"/><rect x="304.20" y="1384.52" width="47.20" height="7.49" fill="#3b0805"/><rect x="304.20" y="1391.41" width="47.20" height="7.49" fill="#4f0b06"/><rect x="304.20" y="1398.29" width="47.20" height="7.49" fill="#200402"/><rect x="304.20" y="1405.18" width="47.20" height="7.49" fill="#3b0805"/><rect x="304.20" y="1412.07" width="47.20" height="7.49" fill="#99160c"/><rect x="304.20" y="1418.95" width="47.20" height="7.49" fill="#690f08"/><rect x="304.20" y="1425.84" width="47.20" height="7.49" fill="#060404"/><rect x="304.20" y="1432.73" width="47.20" height="7.49" fill="#4f0b06"/><rect x="304.20" y="1439.61" width="47.20" height="7.49" fill="#071703"/><rect x="304.20" y="1446.50" width="47.20" height="7.49" fill="#164a09"/><rect x="304.20" y="1453.39" width="47.20" height="21.26" fill="#690f08"/><rect x="304.20" y="1474.05" width="47.20" height="14.37" fill="#b0190e"/><rect x="304.20" y="1487.82" width="47.20" height="7.49" fill="#3b0805"/><rect x="304.20" y="1494.71" width="47.20" height="21.26" fill="#690f08"/><rect x="304.20" y="1515.37" width="47.20" height="7.49" fill="#4f0b06"/><rect x="304.20" y="1522.25" width="47.20" height="7.49" fill="#99160c"/><rect x="304.20" y="1529.14" width="47.20" height="14.37" fill="#80120a"/><rect x="304.20" y="1542.91" width="47.20" height="7.49" fill="#060404"/><rect x="350.80" y="675.20" width="47.20" height="7.49" fill="#0d2b05"/><rect x="350.80" y="682.09" width="47.20" height="7.49" fill="#278210"/><rect x="350.80" y="688.97" width="47.20" height="7.49" fill="#164a09"/><rect x="350.80" y="695.86" width="47.20" height="14.37" fill="#1e630c"/><rect x="350.80" y="709.63" width="47.20" height="14.37" fill="#164a09"/><rect x="350.80" y="723.41" width="47.20" height="7.49" fill="#3b0805"/><rect x="350.80" y="730.29" width="47.20" height="7.49" fill="#164a09"/><rect x="350.80" y="737.18" width="47.20" height="7.49" fill="#1e630c"/><rect x="350.80" y="744.07" width="47.20" height="7.49" fill="#071703"/><rect x="350.80" y="750.95" width="47.20" height="14.37" fill="#690f08"/><rect x="350.80" y="764.73" width="47.20" height="7.49" fill="#071703"/><rect x="350.80" y="771.61" width="47.20" height="14.37" fill="#3b0805"/><rect x="350.80" y="785.39" width="47.20" height="7.49" fill="#200402"/><rect x="350.80" y="792.27" width="47.20" height="7.49" fill="#071703"/><rect x="350.80" y="799.16" width="47.20" height="14.37" fill="#164a09"/><rect x="350.80" y="812.93" width="47.20" height="7.49" fill="#071703"/><rect x="350.80" y="819.82" width="47.20" height="7.49" fill="#200402"/><rect x="350.80" y="826.71" width="47.20" height="14.37" fill="#278210"/><rect x="350.80" y="840.48" width="47.20" height="7.49" fill="#200402"/><rect x="350.80" y="847.37" width="47.20" height="7.49" fill="#164a09"/><rect x="350.80" y="854.25" width="47.20" height="7.49" fill="#060404"/><rect x="350.80" y="861.14" width="47.20" height="7.49" fill="#278210"/><rect x="350.80" y="868.03" width="47.20" height="7.49" fill="#071703"/><rect x="350.80" y="874.91" width="47.20" height="14.37" fill="#200402"/><rect x="350.80" y="888.69" width="47.20" height="7.49" fill="#0d2b05"/><rect x="350.80" y="895.57" width="47.20" height="7.49" fill="#060404"/><rect x="350.80" y="902.46" width="47.20" height="7.49" fill="#0d2b05"/><rect x="350.80" y="909.34" width="47.20" height="7.49" fill="#071703"/><rect x="350.80" y="916.23" width="47.20" height="7.49" fill="#060404"/><rect x="350.80" y="923.12" width="47.20" height="21.26" fill="#071703"/><rect x="350.80" y="943.78" width="47.20" height="14.37" fill="#164a09"/><rect x="350.80" y="957.55" width="47.20" height="7.49" fill="#4f0b06"/><rect x="350.80" y="964.44" width="47.20" height="7.49" fill="#99160c"/><rect x="350.80" y="971.32" width="47.20" height="7.49" fill="#690f08"/><rect x="350.80" y="978.21" width="47.20" height="7.49" fill="#4f0b06"/><rect x="350.80" y="985.10" width="47.20" height="14.37" fill="#690f08"/><rect x="350.80" y="998.87" width="47.20" height="7.49" fill="#4f0b06"/><rect x="350.80" y="1005.76" width="47.20" height="7.49" fill="#690f08"/><rect x="350.80" y="1012.64" width="47.20" height="7.49" fill="#80120a"/><rect x="350.80" y="1019.53" width="47.20" height="7.49" fill="#e82112"/><rect x="350.80" y="1026.42" width="47.20" height="7.49" fill="#b0190e"/><rect x="350.80" y="1033.30" width="47.20" height="7.49" fill="#99160c"/><rect x="350.80" y="1040.19" width="47.20" height="7.49" fill="#b0190e"/><rect x="350.80" y="1047.08" width="47.20" height="14.37" fill="#80120a"/><rect x="350.80" y="1060.85" width="47.20" height="14.37" fill="#690f08"/><rect x="350.80" y="1074.62" width="47.20" height="7.49" fill="#b0190e"/><rect x="350.80" y="1081.51" width="47.20" height="7.49" fill="#1e630c"/><rect x="350.80" y="1088.40" width="47.20" height="7.49" fill="#200402"/><rect x="350.80" y="1095.28" width="47.20" height="7.49" fill="#3b0805"/><rect x="350.80" y="1102.17" width="47.20" height="7.49" fill="#071703"/><rect x="350.80" y="1109.06" width="47.20" height="7.49" fill="#060404"/><rect x="350.80" y="1115.94" width="47.20" height="7.49" fill="#0d2b05"/><rect x="350.80" y="1122.83" width="47.20" height="7.49" fill="#3b0805"/><rect x="350.80" y="1129.72" width="47.20" height="7.49" fill="#060404"/><rect x="350.80" y="1136.60" width="47.20" height="7.49" fill="#0d2b05"/><rect x="350.80" y="1143.49" width="47.20" height="7.49" fill="#200402"/><rect x="350.80" y="1150.38" width="47.20" height="7.49" fill="#164a09"/><rect x="350.80" y="1157.26" width="47.20" height="7.49" fill="#80120a"/><rect x="350.80" y="1164.15" width="47.20" height="7.49" fill="#4f0b06"/><rect x="350.80" y="1171.04" width="47.20" height="7.49" fill="#164a09"/><rect x="350.80" y="1177.92" width="47.20" height="7.49" fill="#071703"/><rect x="350.80" y="1184.81" width="47.20" height="7.49" fill="#4f0b06"/><rect x="350.80" y="1191.70" width="47.20" height="7.49" fill="#164a09"/><rect x="350.80" y="1198.58" width="47.20" height="7.49" fill="#1e630c"/><rect x="350.80" y="1205.47" width="47.20" height="7.49" fill="#164a09"/><rect x="350.80" y="1212.36" width="47.20" height="7.49" fill="#1e630c"/><rect x="350.80" y="1219.24" width="47.20" height="7.49" fill="#4f0b06"/><rect x="350.80" y="1226.13" width="47.20" height="7.49" fill="#060404"/><rect x="350.80" y="1233.02" width="47.20" height="7.49" fill="#99160c"/><rect x="350.80" y="1239.90" width="47.20" height="14.37" fill="#060404"/><rect x="350.80" y="1253.68" width="47.20" height="7.49" fill="#200402"/><rect x="350.80" y="1260.56" width="47.20" height="7.49" fill="#3b0805"/><rect x="350.80" y="1267.45" width="47.20" height="7.49" fill="#164a09"/><rect x="350.80" y="1274.34" width="47.20" height="7.49" fill="#200402"/><rect x="350.80" y="1281.22" width="47.20" height="7.49" fill="#4f0b06"/><rect x="350.80" y="1288.11" width="47.20" height="14.37" fill="#b0190e"/><rect x="350.80" y="1301.88" width="47.20" height="7.49" fill="#ff2414"/><rect x="350.80" y="1308.77" width="47.20" height="21.26" fill="#d11e10"/><rect x="350.80" y="1329.43" width="47.20" height="7.49" fill="#80120a"/><rect x="350.80" y="1336.31" width="47.20" height="7.49" fill="#690f08"/><rect x="350.80" y="1343.20" width="47.20" height="7.49" fill="#80120a"/><rect x="350.80" y="1350.09" width="47.20" height="7.49" fill="#4f0b06"/><rect x="350.80" y="1356.97" width="47.20" height="7.49" fill="#b0190e"/><rect x="350.80" y="1363.86" width="47.20" height="14.37" fill="#99160c"/><rect x="350.80" y="1377.63" width="47.20" height="7.49" fill="#b0190e"/><rect x="350.80" y="1384.52" width="47.20" height="7.49" fill="#d11e10"/><rect x="350.80" y="1391.41" width="47.20" height="21.26" fill="#99160c"/><rect x="350.80" y="1412.07" width="47.20" height="7.49" fill="#e82112"/><rect x="350.80" y="1418.95" width="47.20" height="7.49" fill="#690f08"/><rect x="350.80" y="1425.84" width="47.20" height="7.49" fill="#b0190e"/><rect x="350.80" y="1432.73" width="47.20" height="21.26" fill="#d11e10"/><rect x="350.80" y="1453.39" width="47.20" height="14.37" fill="#80120a"/><rect x="350.80" y="1467.16" width="47.20" height="7.49" fill="#690f08"/><rect x="350.80" y="1474.05" width="47.20" height="28.15" fill="#4f0b06"/><rect x="350.80" y="1501.59" width="47.20" height="7.49" fill="#99160c"/><rect x="350.80" y="1508.48" width="47.20" height="7.49" fill="#690f08"/><rect x="350.80" y="1515.37" width="47.20" height="7.49" fill="#200402"/><rect x="350.80" y="1522.25" width="47.20" height="14.37" fill="#3b0805"/><rect x="350.80" y="1536.03" width="47.20" height="7.49" fill="#80120a"/><rect x="350.80" y="1542.91" width="47.20" height="7.49" fill="#3b0805"/><rect x="397.40" y="675.20" width="47.20" height="7.49" fill="#060404"/><rect x="397.40" y="682.09" width="47.20" height="14.37" fill="#0d2b05"/><rect x="397.40" y="695.86" width="47.20" height="14.37" fill="#278210"/><rect x="397.40" y="709.63" width="47.20" height="7.49" fill="#1e630c"/><rect x="397.40" y="716.52" width="47.20" height="7.49" fill="#2e9913"/><rect x="397.40" y="723.41" width="47.20" height="7.49" fill="#690f08"/><rect x="397.40" y="730.29" width="47.20" height="7.49" fill="#4f0b06"/><rect x="397.40" y="737.18" width="47.20" height="7.49" fill="#99160c"/><rect x="397.40" y="744.07" width="47.20" height="7.49" fill="#4f0b06"/><rect x="397.40" y="750.95" width="47.20" height="7.49" fill="#690f08"/><rect x="397.40" y="757.84" width="47.20" height="7.49" fill="#80120a"/><rect x="397.40" y="764.73" width="47.20" height="28.15" fill="#99160c"/><rect x="397.40" y="792.27" width="47.20" height="7.49" fill="#4f0b06"/><rect x="397.40" y="799.16" width="47.20" height="14.37" fill="#200402"/><rect x="397.40" y="812.93" width="47.20" height="7.49" fill="#99160c"/><rect x="397.40" y="819.82" width="47.20" height="7.49" fill="#690f08"/><rect x="397.40" y="826.71" width="47.20" height="7.49" fill="#99160c"/><rect x="397.40" y="833.59" width="47.20" height="7.49" fill="#e82112"/><rect x="397.40" y="840.48" width="47.20" height="7.49" fill="#b0190e"/><rect x="397.40" y="847.37" width="47.20" height="7.49" fill="#278210"/><rect x="397.40" y="854.25" width="47.20" height="21.26" fill="#2e9913"/><rect x="397.40" y="874.91" width="47.20" height="7.49" fill="#278210"/><rect x="397.40" y="881.80" width="47.20" height="7.49" fill="#2e9913"/><rect x="397.40" y="888.69" width="47.20" height="7.49" fill="#060404"/><rect x="397.40" y="895.57" width="47.20" height="21.26" fill="#0d2b05"/><rect x="397.40" y="916.23" width="47.20" height="7.49" fill="#060404"/><rect x="397.40" y="923.12" width="47.20" height="14.37" fill="#278210"/><rect x="397.40" y="936.89" width="47.20" height="7.49" fill="#1e630c"/><rect x="397.40" y="943.78" width="47.20" height="7.49" fill="#2e9913"/><rect x="397.40" y="950.66" width="47.20" height="14.37" fill="#278210"/><rect x="397.40" y="964.44" width="47.20" height="14.37" fill="#2e9913"/><rect x="397.40" y="978.21" width="47.20" height="7.49" fill="#278210"/><rect x="397.40" y="985.10" width="47.20" height="7.49" fill="#2e9913"/><rect x="397.40" y="991.98" width="47.20" height="14.37" fill="#278210"/><rect x="397.40" y="1005.76" width="47.20" height="14.37" fill="#2e9913"/><rect x="397.40" y="1019.53" width="47.20" height="21.26" fill="#278210"/><rect x="397.40" y="1040.19" width="47.20" height="7.49" fill="#1e630c"/><rect x="397.40" y="1047.08" width="47.20" height="14.37" fill="#278210"/><rect x="397.40" y="1060.85" width="47.20" height="7.49" fill="#1e630c"/><rect x="397.40" y="1067.74" width="47.20" height="7.49" fill="#34ad16"/><rect x="397.40" y="1074.62" width="47.20" height="21.26" fill="#1e630c"/><rect x="397.40" y="1095.28" width="47.20" height="7.49" fill="#060404"/><rect x="397.40" y="1102.17" width="47.20" height="14.37" fill="#278210"/><rect x="397.40" y="1115.94" width="47.20" height="7.49" fill="#2e9913"/><rect x="397.40" y="1122.83" width="47.20" height="7.49" fill="#34ad16"/><rect x="397.40" y="1129.72" width="47.20" height="14.37" fill="#1e630c"/><rect x="397.40" y="1143.49" width="47.20" height="7.49" fill="#2e9913"/><rect x="397.40" y="1150.38" width="47.20" height="28.15" fill="#278210"/><rect x="397.40" y="1177.92" width="47.20" height="7.49" fill="#2e9913"/><rect x="397.40" y="1184.81" width="47.20" height="7.49" fill="#3dcc1a"/><rect x="397.40" y="1191.70" width="47.20" height="7.49" fill="#1e630c"/><rect x="397.40" y="1198.58" width="47.20" height="21.26" fill="#278210"/><rect x="397.40" y="1219.24" width="47.20" height="7.49" fill="#34ad16"/><rect x="397.40" y="1226.13" width="47.20" height="7.49" fill="#2e9913"/><rect x="397.40" y="1233.02" width="47.20" height="7.49" fill="#278210"/><rect x="397.40" y="1239.90" width="47.20" height="14.37" fill="#34ad16"/><rect x="397.40" y="1253.68" width="47.20" height="7.49" fill="#2e9913"/><rect x="397.40" y="1260.56" width="47.20" height="7.49" fill="#3dcc1a"/><rect x="397.40" y="1267.45" width="47.20" height="7.49" fill="#2e9913"/><rect x="397.40" y="1274.34" width="47.20" height="7.49" fill="#278210"/><rect x="397.40" y="1281.22" width="47.20" height="7.49" fill="#164a09"/><rect x="397.40" y="1288.11" width="47.20" height="7.49" fill="#278210"/><rect x="397.40" y="1295.00" width="47.20" height="7.49" fill="#34ad16"/><rect x="397.40" y="1301.88" width="47.20" height="7.49" fill="#278210"/><rect x="397.40" y="1308.77" width="47.20" height="7.49" fill="#34ad16"/><rect x="397.40" y="1315.66" width="47.20" height="14.37" fill="#1e630c"/><rect x="397.40" y="1329.43" width="47.20" height="7.49" fill="#2e9913"/><rect x="397.40" y="1336.31" width="47.20" height="21.26" fill="#3dcc1a"/><rect x="397.40" y="1356.97" width="47.20" height="14.37" fill="#278210"/><rect x="397.40" y="1370.75" width="47.20" height="7.49" fill="#0d2b05"/><rect x="397.40" y="1377.63" width="47.20" height="7.49" fill="#2e9913"/><rect x="397.40" y="1384.52" width="47.20" height="7.49" fill="#278210"/><rect x="397.40" y="1391.41" width="47.20" height="7.49" fill="#34ad16"/><rect x="397.40" y="1398.29" width="47.20" height="14.37" fill="#2e9913"/><rect x="397.40" y="1412.07" width="47.20" height="7.49" fill="#0d2b05"/><rect x="397.40" y="1418.95" width="47.20" height="14.37" fill="#34ad16"/><rect x="397.40" y="1432.73" width="47.20" height="7.49" fill="#164a09"/><rect x="397.40" y="1439.61" width="47.20" height="14.37" fill="#278210"/><rect x="397.40" y="1453.39" width="47.20" height="7.49" fill="#1e630c"/><rect x="397.40" y="1460.27" width="47.20" height="7.49" fill="#164a09"/><rect x="397.40" y="1467.16" width="47.20" height="7.49" fill="#278210"/><rect x="397.40" y="1474.05" width="47.20" height="7.49" fill="#1e630c"/><rect x="397.40" y="1480.93" width="47.20" height="7.49" fill="#060404"/><rect x="397.40" y="1487.82" width="47.20" height="21.26" fill="#2e9913"/><rect x="397.40" y="1508.48" width="47.20" height="7.49" fill="#164a09"/><rect x="397.40" y="1515.37" width="47.20" height="7.49" fill="#2e9913"/><rect x="397.40" y="1522.25" width="47.20" height="14.37" fill="#164a09"/><rect x="397.40" y="1536.03" width="47.20" height="14.37" fill="#2e9913"/><rect x="444.00" y="675.20" width="47.20" height="7.49" fill="#200402"/><rect x="444.00" y="682.09" width="47.20" height="7.49" fill="#4f0b06"/><rect x="444.00" y="688.97" width="47.20" height="7.49" fill="#071703"/><rect x="444.00" y="695.86" width="47.20" height="7.49" fill="#3b0805"/><rect x="444.00" y="702.75" width="47.20" height="7.49" fill="#164a09"/><rect x="444.00" y="709.63" width="47.20" height="7.49" fill="#4f0b06"/><rect x="444.00" y="716.52" width="47.20" height="14.37" fill="#690f08"/><rect x="444.00" y="730.29" width="47.20" height="7.49" fill="#99160c"/><rect x="444.00" y="737.18" width="47.20" height="7.49" fill="#200402"/><rect x="444.00" y="744.07" width="47.20" height="7.49" fill="#690f08"/><rect x="444.00" y="750.95" width="47.20" height="14.37" fill="#3b0805"/><rect x="444.00" y="764.73" width="47.20" height="7.49" fill="#80120a"/><rect x="444.00" y="771.61" width="47.20" height="7.49" fill="#3b0805"/><rect x="444.00" y="778.50" width="47.20" height="7.49" fill="#99160c"/><rect x="444.00" y="785.39" width="47.20" height="7.49" fill="#b0190e"/><rect x="444.00" y="792.27" width="47.20" height="21.26" fill="#80120a"/><rect x="444.00" y="812.93" width="47.20" height="7.49" fill="#690f08"/><rect x="444.00" y="819.82" width="47.20" height="7.49" fill="#99160c"/><rect x="444.00" y="826.71" width="47.20" height="7.49" fill="#200402"/><rect x="444.00" y="833.59" width="47.20" height="14.37" fill="#3b0805"/><rect x="444.00" y="847.37" width="47.20" height="14.37" fill="#1e630c"/><rect x="444.00" y="861.14" width="47.20" height="14.37" fill="#164a09"/><rect x="444.00" y="874.91" width="47.20" height="7.49" fill="#0d2b05"/><rect x="444.00" y="881.80" width="47.20" height="7.49" fill="#1e630c"/><rect x="444.00" y="888.69" width="47.20" height="7.49" fill="#278210"/><rect x="444.00" y="895.57" width="47.20" height="7.49" fill="#1e630c"/><rect x="444.00" y="902.46" width="47.20" height="7.49" fill="#164a09"/><rect x="444.00" y="909.34" width="47.20" height="7.49" fill="#1e630c"/><rect x="444.00" y="916.23" width="47.20" height="7.49" fill="#164a09"/><rect x="444.00" y="923.12" width="47.20" height="7.49" fill="#1e630c"/><rect x="444.00" y="930.00" width="47.20" height="7.49" fill="#071703"/><rect x="444.00" y="936.89" width="47.20" height="7.49" fill="#34ad16"/><rect x="444.00" y="943.78" width="47.20" height="14.37" fill="#1e630c"/><rect x="444.00" y="957.55" width="47.20" height="7.49" fill="#164a09"/><rect x="444.00" y="964.44" width="47.20" height="7.49" fill="#1e630c"/><rect x="444.00" y="971.32" width="47.20" height="7.49" fill="#060404"/><rect x="444.00" y="978.21" width="47.20" height="7.49" fill="#0d2b05"/><rect x="444.00" y="985.10" width="47.20" height="14.37" fill="#164a09"/><rect x="444.00" y="998.87" width="47.20" height="14.37" fill="#1e630c"/><rect x="444.00" y="1012.64" width="47.20" height="7.49" fill="#164a09"/><rect x="444.00" y="1019.53" width="47.20" height="7.49" fill="#3b0805"/><rect x="444.00" y="1026.42" width="47.20" height="14.37" fill="#0d2b05"/><rect x="444.00" y="1040.19" width="47.20" height="7.49" fill="#164a09"/><rect x="444.00" y="1047.08" width="47.20" height="7.49" fill="#0d2b05"/><rect x="444.00" y="1053.96" width="47.20" height="7.49" fill="#164a09"/><rect x="444.00" y="1060.85" width="47.20" height="7.49" fill="#071703"/><rect x="444.00" y="1067.74" width="47.20" height="7.49" fill="#060404"/><rect x="444.00" y="1074.62" width="47.20" height="7.49" fill="#164a09"/><rect x="444.00" y="1081.51" width="47.20" height="7.49" fill="#200402"/><rect x="444.00" y="1088.40" width="47.20" height="7.49" fill="#060404"/><rect x="444.00" y="1095.28" width="47.20" height="7.49" fill="#200402"/><rect x="444.00" y="1102.17" width="47.20" height="7.49" fill="#278210"/><rect x="444.00" y="1109.06" width="47.20" height="7.49" fill="#1e630c"/><rect x="444.00" y="1115.94" width="47.20" height="21.26" fill="#0d2b05"/><rect x="444.00" y="1136.60" width="47.20" height="14.37" fill="#1e630c"/><rect x="444.00" y="1150.38" width="47.20" height="14.37" fill="#278210"/><rect x="444.00" y="1164.15" width="47.20" height="7.49" fill="#1e630c"/><rect x="444.00" y="1171.04" width="47.20" height="7.49" fill="#0d2b05"/><rect x="444.00" y="1177.92" width="47.20" height="7.49" fill="#200402"/><rect x="444.00" y="1184.81" width="47.20" height="7.49" fill="#2e9913"/><rect x="444.00" y="1191.70" width="47.20" height="35.03" fill="#1e630c"/><rect x="444.00" y="1226.13" width="47.20" height="21.26" fill="#278210"/><rect x="444.00" y="1246.79" width="47.20" height="7.49" fill="#1e630c"/><rect x="444.00" y="1253.68" width="47.20" height="7.49" fill="#0d2b05"/><rect x="444.00" y="1260.56" width="47.20" height="7.49" fill="#164a09"/><rect x="444.00" y="1267.45" width="47.20" height="7.49" fill="#278210"/><rect x="444.00" y="1274.34" width="47.20" height="7.49" fill="#0d2b05"/><rect x="444.00" y="1281.22" width="47.20" height="7.49" fill="#164a09"/><rect x="444.00" y="1288.11" width="47.20" height="7.49" fill="#34ad16"/><rect x="444.00" y="1295.00" width="47.20" height="7.49" fill="#1e630c"/><rect x="444.00" y="1301.88" width="47.20" height="7.49" fill="#0d2b05"/><rect x="444.00" y="1308.77" width="47.20" height="41.92" fill="#1e630c"/><rect x="444.00" y="1350.09" width="47.20" height="7.49" fill="#0d2b05"/><rect x="444.00" y="1356.97" width="47.20" height="21.26" fill="#200402"/><rect x="444.00" y="1377.63" width="47.20" height="7.49" fill="#164a09"/><rect x="444.00" y="1384.52" width="47.20" height="7.49" fill="#1e630c"/><rect x="444.00" y="1391.41" width="47.20" height="7.49" fill="#164a09"/><rect x="444.00" y="1398.29" width="47.20" height="7.49" fill="#060404"/><rect x="444.00" y="1405.18" width="47.20" height="7.49" fill="#071703"/><rect x="444.00" y="1412.07" width="47.20" height="14.37" fill="#1e630c"/><rect x="444.00" y="1425.84" width="47.20" height="7.49" fill="#164a09"/><rect x="444.00" y="1432.73" width="47.20" height="7.49" fill="#060404"/><rect x="444.00" y="1439.61" width="47.20" height="7.49" fill="#071703"/><rect x="444.00" y="1446.50" width="47.20" height="7.49" fill="#0d2b05"/><rect x="444.00" y="1453.39" width="47.20" height="7.49" fill="#200402"/><rect x="444.00" y="1460.27" width="47.20" height="7.49" fill="#071703"/><rect x="444.00" y="1467.16" width="47.20" height="7.49" fill="#3b0805"/><rect x="444.00" y="1474.05" width="47.20" height="7.49" fill="#164a09"/><rect x="444.00" y="1480.93" width="47.20" height="7.49" fill="#1e630c"/><rect x="444.00" y="1487.82" width="47.20" height="7.49" fill="#071703"/><rect x="444.00" y="1494.71" width="47.20" height="14.37" fill="#0d2b05"/><rect x="444.00" y="1508.48" width="47.20" height="7.49" fill="#060404"/><rect x="444.00" y="1515.37" width="47.20" height="7.49" fill="#071703"/><rect x="444.00" y="1522.25" width="47.20" height="7.49" fill="#164a09"/><rect x="444.00" y="1529.14" width="47.20" height="7.49" fill="#200402"/><rect x="444.00" y="1536.03" width="47.20" height="7.49" fill="#4f0b06"/><rect x="444.00" y="1542.91" width="47.20" height="7.49" fill="#690f08"/><rect x="490.60" y="675.20" width="47.20" height="7.49" fill="#3b0805"/><rect x="490.60" y="682.09" width="47.20" height="14.37" fill="#164a09"/><rect x="490.60" y="695.86" width="47.20" height="7.49" fill="#060404"/><rect x="490.60" y="702.75" width="47.20" height="14.37" fill="#99160c"/><rect x="490.60" y="716.52" width="47.20" height="7.49" fill="#b0190e"/><rect x="490.60" y="723.41" width="47.20" height="7.49" fill="#3b0805"/><rect x="490.60" y="730.29" width="47.20" height="7.49" fill="#164a09"/><rect x="490.60" y="737.18" width="47.20" height="7.49" fill="#060404"/><rect x="490.60" y="744.07" width="47.20" height="7.49" fill="#3b0805"/><rect x="490.60" y="750.95" width="47.20" height="14.37" fill="#200402"/><rect x="490.60" y="764.73" width="47.20" height="14.37" fill="#99160c"/><rect x="490.60" y="778.50" width="47.20" height="21.26" fill="#690f08"/><rect x="490.60" y="799.16" width="47.20" height="14.37" fill="#99160c"/><rect x="490.60" y="812.93" width="47.20" height="7.49" fill="#80120a"/><rect x="490.60" y="819.82" width="47.20" height="7.49" fill="#99160c"/><rect x="490.60" y="826.71" width="47.20" height="7.49" fill="#4f0b06"/><rect x="490.60" y="833.59" width="47.20" height="7.49" fill="#0d2b05"/><rect x="490.60" y="840.48" width="47.20" height="7.49" fill="#690f08"/><rect x="490.60" y="847.37" width="47.20" height="7.49" fill="#164a09"/><rect x="490.60" y="854.25" width="47.20" height="7.49" fill="#1e630c"/><rect x="490.60" y="861.14" width="47.20" height="14.37" fill="#34ad16"/><rect x="490.60" y="874.91" width="47.20" height="7.49" fill="#3dcc1a"/><rect x="490.60" y="881.80" width="47.20" height="7.49" fill="#34ad16"/><rect x="490.60" y="888.69" width="47.20" height="7.49" fill="#060404"/><rect x="490.60" y="895.57" width="47.20" height="7.49" fill="#1e630c"/><rect x="490.60" y="902.46" width="47.20" height="7.49" fill="#164a09"/><rect x="490.60" y="909.34" width="47.20" height="7.49" fill="#1e630c"/><rect x="490.60" y="916.23" width="47.20" height="7.49" fill="#164a09"/><rect x="490.60" y="923.12" width="47.20" height="7.49" fill="#34ad16"/><rect x="490.60" y="930.00" width="47.20" height="7.49" fill="#2e9913"/><rect x="490.60" y="936.89" width="47.20" height="7.49" fill="#060404"/><rect x="490.60" y="943.78" width="47.20" height="21.26" fill="#1e630c"/><rect x="490.60" y="964.44" width="47.20" height="7.49" fill="#2e9913"/><rect x="490.60" y="971.32" width="47.20" height="7.49" fill="#34ad16"/><rect x="490.60" y="978.21" width="47.20" height="14.37" fill="#2e9913"/><rect x="490.60" y="991.98" width="47.20" height="7.49" fill="#4cff20"/><rect x="490.60" y="998.87" width="47.20" height="7.49" fill="#2e9913"/><rect x="490.60" y="1005.76" width="47.20" height="7.49" fill="#278210"/><rect x="490.60" y="1012.64" width="47.20" height="7.49" fill="#34ad16"/><rect x="490.60" y="1019.53" width="47.20" height="7.49" fill="#1e630c"/><rect x="490.60" y="1026.42" width="47.20" height="21.26" fill="#34ad16"/><rect x="490.60" y="1047.08" width="47.20" height="14.37" fill="#44e61d"/><rect x="490.60" y="1060.85" width="47.20" height="7.49" fill="#1e630c"/><rect x="490.60" y="1067.74" width="47.20" height="7.49" fill="#2e9913"/><rect x="490.60" y="1074.62" width="47.20" height="7.49" fill="#278210"/><rect x="490.60" y="1081.51" width="47.20" height="7.49" fill="#1e630c"/><rect x="490.60" y="1088.40" width="47.20" height="14.37" fill="#0d2b05"/><rect x="490.60" y="1102.17" width="47.20" height="7.49" fill="#2e9913"/><rect x="490.60" y="1109.06" width="47.20" height="7.49" fill="#34ad16"/><rect x="490.60" y="1115.94" width="47.20" height="7.49" fill="#2e9913"/><rect x="490.60" y="1122.83" width="47.20" height="14.37" fill="#34ad16"/><rect x="490.60" y="1136.60" width="47.20" height="7.49" fill="#278210"/><rect x="490.60" y="1143.49" width="47.20" height="7.49" fill="#34ad16"/><rect x="490.60" y="1150.38" width="47.20" height="7.49" fill="#3dcc1a"/><rect x="490.60" y="1157.26" width="47.20" height="14.37" fill="#2e9913"/><rect x="490.60" y="1171.04" width="47.20" height="7.49" fill="#278210"/><rect x="490.60" y="1177.92" width="47.20" height="7.49" fill="#2e9913"/><rect x="490.60" y="1184.81" width="47.20" height="21.26" fill="#278210"/><rect x="490.60" y="1205.47" width="47.20" height="21.26" fill="#1e630c"/><rect x="490.60" y="1226.13" width="47.20" height="7.49" fill="#060404"/><rect x="490.60" y="1233.02" width="47.20" height="14.37" fill="#164a09"/><rect x="490.60" y="1246.79" width="47.20" height="21.26" fill="#2e9913"/><rect x="490.60" y="1267.45" width="47.20" height="7.49" fill="#34ad16"/><rect x="490.60" y="1274.34" width="47.20" height="7.49" fill="#3dcc1a"/><rect x="490.60" y="1281.22" width="47.20" height="7.49" fill="#2e9913"/><rect x="490.60" y="1288.11" width="47.20" height="7.49" fill="#278210"/><rect x="490.60" y="1295.00" width="47.20" height="7.49" fill="#164a09"/><rect x="490.60" y="1301.88" width="47.20" height="21.26" fill="#2e9913"/><rect x="490.60" y="1322.54" width="47.20" height="7.49" fill="#34ad16"/><rect x="490.60" y="1329.43" width="47.20" height="7.49" fill="#44e61d"/><rect x="490.60" y="1336.31" width="47.20" height="14.37" fill="#3dcc1a"/><rect x="490.60" y="1350.09" width="47.20" height="7.49" fill="#4cff20"/><rect x="490.60" y="1356.97" width="47.20" height="7.49" fill="#2e9913"/><rect x="490.60" y="1363.86" width="47.20" height="14.37" fill="#44e61d"/><rect x="490.60" y="1377.63" width="47.20" height="7.49" fill="#2e9913"/><rect x="490.60" y="1384.52" width="47.20" height="7.49" fill="#34ad16"/><rect x="490.60" y="1391.41" width="47.20" height="7.49" fill="#2e9913"/><rect x="490.60" y="1398.29" width="47.20" height="14.37" fill="#4cff20"/><rect x="490.60" y="1412.07" width="47.20" height="7.49" fill="#060404"/><rect x="490.60" y="1418.95" width="47.20" height="14.37" fill="#2e9913"/><rect x="490.60" y="1432.73" width="47.20" height="14.37" fill="#278210"/><rect x="490.60" y="1446.50" width="47.20" height="7.49" fill="#2e9913"/><rect x="490.60" y="1453.39" width="47.20" height="21.26" fill="#3dcc1a"/><rect x="490.60" y="1474.05" width="47.20" height="62.58" fill="#4cff20"/><rect x="490.60" y="1536.03" width="47.20" height="7.49" fill="#2e9913"/><rect x="490.60" y="1542.91" width="47.20" height="7.49" fill="#34ad16"/><rect x="537.20" y="675.20" width="47.20" height="7.49" fill="#060404"/><rect x="537.20" y="682.09" width="47.20" height="14.37" fill="#4f0b06"/><rect x="537.20" y="695.86" width="47.20" height="7.49" fill="#d11e10"/><rect x="537.20" y="702.75" width="47.20" height="21.26" fill="#b0190e"/><rect x="537.20" y="723.41" width="47.20" height="7.49" fill="#690f08"/><rect x="537.20" y="730.29" width="47.20" height="7.49" fill="#4f0b06"/><rect x="537.20" y="737.18" width="47.20" height="7.49" fill="#690f08"/><rect x="537.20" y="744.07" width="47.20" height="7.49" fill="#4f0b06"/><rect x="537.20" y="750.95" width="47.20" height="7.49" fill="#690f08"/><rect x="537.20" y="757.84" width="47.20" height="21.26" fill="#4f0b06"/><rect x="537.20" y="778.50" width="47.20" height="7.49" fill="#3b0805"/><rect x="537.20" y="785.39" width="47.20" height="7.49" fill="#060404"/><rect x="537.20" y="792.27" width="47.20" height="7.49" fill="#690f08"/><rect x="537.20" y="799.16" width="47.20" height="14.37" fill="#80120a"/><rect x="537.20" y="812.93" width="47.20" height="14.37" fill="#690f08"/><rect x="537.20" y="826.71" width="47.20" height="7.49" fill="#80120a"/><rect x="537.20" y="833.59" width="47.20" height="14.37" fill="#0d2b05"/><rect x="537.20" y="847.37" width="47.20" height="7.49" fill="#060404"/><rect x="537.20" y="854.25" width="47.20" height="7.49" fill="#200402"/><rect x="537.20" y="861.14" width="47.20" height="7.49" fill="#690f08"/><rect x="537.20" y="868.03" width="47.20" height="7.49" fill="#060404"/><rect x="537.20" y="874.91" width="47.20" height="7.49" fill="#071703"/><rect x="537.20" y="881.80" width="47.20" height="7.49" fill="#200402"/><rect x="537.20" y="888.69" width="47.20" height="7.49" fill="#071703"/><rect x="537.20" y="895.57" width="47.20" height="21.26" fill="#1e630c"/><rect x="537.20" y="916.23" width="47.20" height="7.49" fill="#278210"/><rect x="537.20" y="923.12" width="47.20" height="7.49" fill="#060404"/><rect x="537.20" y="930.00" width="47.20" height="7.49" fill="#164a09"/><rect x="537.20" y="936.89" width="47.20" height="7.49" fill="#1e630c"/><rect x="537.20" y="943.78" width="47.20" height="14.37" fill="#200402"/><rect x="537.20" y="957.55" width="47.20" height="7.49" fill="#164a09"/><rect x="537.20" y="964.44" width="47.20" height="7.49" fill="#200402"/><rect x="537.20" y="971.32" width="47.20" height="21.26" fill="#164a09"/><rect x="537.20" y="991.98" width="47.20" height="7.49" fill="#060404"/><rect x="537.20" y="998.87" width="47.20" height="7.49" fill="#1e630c"/><rect x="537.20" y="1005.76" width="47.20" height="7.49" fill="#164a09"/><rect x="537.20" y="1012.64" width="47.20" height="7.49" fill="#0d2b05"/><rect x="537.20" y="1019.53" width="47.20" height="21.26" fill="#164a09"/><rect x="537.20" y="1040.19" width="47.20" height="7.49" fill="#071703"/><rect x="537.20" y="1047.08" width="47.20" height="7.49" fill="#0d2b05"/><rect x="537.20" y="1053.96" width="47.20" height="7.49" fill="#200402"/><rect x="537.20" y="1060.85" width="47.20" height="7.49" fill="#1e630c"/><rect x="537.20" y="1067.74" width="47.20" height="7.49" fill="#071703"/><rect x="537.20" y="1074.62" width="47.20" height="7.49" fill="#164a09"/><rect x="537.20" y="1081.51" width="47.20" height="7.49" fill="#071703"/><rect x="537.20" y="1088.40" width="47.20" height="7.49" fill="#3b0805"/><rect x="537.20" y="1095.28" width="47.20" height="7.49" fill="#071703"/><rect x="537.20" y="1102.17" width="47.20" height="7.49" fill="#3b0805"/><rect x="537.20" y="1109.06" width="47.20" height="7.49" fill="#1e630c"/><rect x="537.20" y="1115.94" width="47.20" height="7.49" fill="#060404"/><rect x="537.20" y="1122.83" width="47.20" height="7.49" fill="#071703"/><rect x="537.20" y="1129.72" width="47.20" height="21.26" fill="#1e630c"/><rect x="537.20" y="1150.38" width="47.20" height="14.37" fill="#060404"/><rect x="537.20" y="1164.15" width="47.20" height="7.49" fill="#690f08"/><rect x="537.20" y="1171.04" width="47.20" height="7.49" fill="#0d2b05"/><rect x="537.20" y="1177.92" width="47.20" height="7.49" fill="#071703"/><rect x="537.20" y="1184.81" width="47.20" height="7.49" fill="#0d2b05"/><rect x="537.20" y="1191.70" width="47.20" height="7.49" fill="#060404"/><rect x="537.20" y="1198.58" width="47.20" height="7.49" fill="#4f0b06"/><rect x="537.20" y="1205.47" width="47.20" height="7.49" fill="#060404"/><rect x="537.20" y="1212.36" width="47.20" height="7.49" fill="#200402"/><rect x="537.20" y="1219.24" width="47.20" height="7.49" fill="#4f0b06"/><rect x="537.20" y="1226.13" width="47.20" height="7.49" fill="#200402"/><rect x="537.20" y="1233.02" width="47.20" height="7.49" fill="#0d2b05"/><rect x="537.20" y="1239.90" width="47.20" height="14.37" fill="#200402"/><rect x="537.20" y="1253.68" width="47.20" height="7.49" fill="#3b0805"/><rect x="537.20" y="1260.56" width="47.20" height="7.49" fill="#200402"/><rect x="537.20" y="1267.45" width="47.20" height="7.49" fill="#3b0805"/><rect x="537.20" y="1274.34" width="47.20" height="7.49" fill="#060404"/><rect x="537.20" y="1281.22" width="47.20" height="7.49" fill="#690f08"/><rect x="537.20" y="1288.11" width="47.20" height="7.49" fill="#1e630c"/><rect x="537.20" y="1295.00" width="47.20" height="14.37" fill="#060404"/><rect x="537.20" y="1308.77" width="47.20" height="14.37" fill="#164a09"/><rect x="537.20" y="1322.54" width="47.20" height="7.49" fill="#071703"/><rect x="537.20" y="1329.43" width="47.20" height="7.49" fill="#1e630c"/><rect x="537.20" y="1336.31" width="47.20" height="7.49" fill="#060404"/><rect x="537.20" y="1343.20" width="47.20" height="7.49" fill="#071703"/><rect x="537.20" y="1350.09" width="47.20" height="7.49" fill="#0d2b05"/><rect x="537.20" y="1356.97" width="47.20" height="14.37" fill="#164a09"/><rect x="537.20" y="1370.75" width="47.20" height="7.49" fill="#278210"/><rect x="537.20" y="1377.63" width="47.20" height="7.49" fill="#0d2b05"/><rect x="537.20" y="1384.52" width="47.20" height="7.49" fill="#060404"/><rect x="537.20" y="1391.41" width="47.20" height="7.49" fill="#1e630c"/><rect x="537.20" y="1398.29" width="47.20" height="7.49" fill="#200402"/><rect x="537.20" y="1405.18" width="47.20" height="7.49" fill="#060404"/><rect x="537.20" y="1412.07" width="47.20" height="7.49" fill="#1e630c"/><rect x="537.20" y="1418.95" width="47.20" height="7.49" fill="#0d2b05"/><rect x="537.20" y="1425.84" width="47.20" height="7.49" fill="#3b0805"/><rect x="537.20" y="1432.73" width="47.20" height="7.49" fill="#164a09"/><rect x="537.20" y="1439.61" width="47.20" height="7.49" fill="#0d2b05"/><rect x="537.20" y="1446.50" width="47.20" height="14.37" fill="#1e630c"/><rect x="537.20" y="1460.27" width="47.20" height="7.49" fill="#278210"/><rect x="537.20" y="1467.16" width="47.20" height="14.37" fill="#200402"/><rect x="537.20" y="1480.93" width="47.20" height="7.49" fill="#164a09"/><rect x="537.20" y="1487.82" width="47.20" height="14.37" fill="#071703"/><rect x="537.20" y="1501.59" width="47.20" height="7.49" fill="#0d2b05"/><rect x="537.20" y="1508.48" width="47.20" height="7.49" fill="#2e9913"/><rect x="537.20" y="1515.37" width="47.20" height="14.37" fill="#1e630c"/><rect x="537.20" y="1529.14" width="47.20" height="7.49" fill="#164a09"/><rect x="537.20" y="1536.03" width="47.20" height="14.37" fill="#1e630c"/><rect x="583.80" y="675.20" width="47.20" height="7.49" fill="#060404"/><rect x="583.80" y="682.09" width="47.20" height="7.49" fill="#e82112"/><rect x="583.80" y="688.97" width="47.20" height="7.49" fill="#ff2414"/><rect x="583.80" y="695.86" width="47.20" height="7.49" fill="#4f0b06"/><rect x="583.80" y="702.75" width="47.20" height="14.37" fill="#690f08"/><rect x="583.80" y="716.52" width="47.20" height="7.49" fill="#4f0b06"/><rect x="583.80" y="723.41" width="47.20" height="7.49" fill="#071703"/><rect x="583.80" y="730.29" width="47.20" height="7.49" fill="#80120a"/><rect x="583.80" y="737.18" width="47.20" height="7.49" fill="#d11e10"/><rect x="583.80" y="744.07" width="47.20" height="7.49" fill="#690f08"/><rect x="583.80" y="750.95" width="47.20" height="14.37" fill="#80120a"/><rect x="583.80" y="764.73" width="47.20" height="7.49" fill="#1e630c"/><rect x="583.80" y="771.61" width="47.20" height="21.26" fill="#200402"/><rect x="583.80" y="792.27" width="47.20" height="7.49" fill="#b0190e"/><rect x="583.80" y="799.16" width="47.20" height="7.49" fill="#4f0b06"/><rect x="583.80" y="806.05" width="47.20" height="21.26" fill="#200402"/><rect x="583.80" y="826.71" width="47.20" height="7.49" fill="#80120a"/><rect x="583.80" y="833.59" width="47.20" height="7.49" fill="#99160c"/><rect x="583.80" y="840.48" width="47.20" height="7.49" fill="#690f08"/><rect x="583.80" y="847.37" width="47.20" height="14.37" fill="#1e630c"/><rect x="583.80" y="861.14" width="47.20" height="7.49" fill="#071703"/><rect x="583.80" y="868.03" width="47.20" height="7.49" fill="#060404"/><rect x="583.80" y="874.91" width="47.20" height="7.49" fill="#0d2b05"/><rect x="583.80" y="881.80" width="47.20" height="7.49" fill="#071703"/><rect x="583.80" y="888.69" width="47.20" height="35.03" fill="#2e9913"/><rect x="583.80" y="923.12" width="47.20" height="7.49" fill="#164a09"/><rect x="583.80" y="930.00" width="47.20" height="7.49" fill="#060404"/><rect x="583.80" y="936.89" width="47.20" height="7.49" fill="#164a09"/><rect x="583.80" y="943.78" width="47.20" height="7.49" fill="#2e9913"/><rect x="583.80" y="950.66" width="47.20" height="7.49" fill="#164a09"/><rect x="583.80" y="957.55" width="47.20" height="14.37" fill="#060404"/><rect x="583.80" y="971.32" width="47.20" height="7.49" fill="#164a09"/><rect x="583.80" y="978.21" width="47.20" height="7.49" fill="#071703"/><rect x="583.80" y="985.10" width="47.20" height="7.49" fill="#690f08"/><rect x="583.80" y="991.98" width="47.20" height="28.15" fill="#3b0805"/><rect x="583.80" y="1019.53" width="47.20" height="14.37" fill="#0d2b05"/><rect x="583.80" y="1033.30" width="47.20" height="7.49" fill="#200402"/><rect x="583.80" y="1040.19" width="47.20" height="14.37" fill="#1e630c"/><rect x="583.80" y="1053.96" width="47.20" height="7.49" fill="#060404"/><rect x="583.80" y="1060.85" width="47.20" height="7.49" fill="#2e9913"/><rect x="583.80" y="1067.74" width="47.20" height="7.49" fill="#0d2b05"/><rect x="583.80" y="1074.62" width="47.20" height="7.49" fill="#278210"/><rect x="583.80" y="1081.51" width="47.20" height="7.49" fill="#164a09"/><rect x="583.80" y="1088.40" width="47.20" height="14.37" fill="#4cff20"/><rect x="583.80" y="1102.17" width="47.20" height="7.49" fill="#0d2b05"/><rect x="583.80" y="1109.06" width="47.20" height="7.49" fill="#4f0b06"/><rect x="583.80" y="1115.94" width="47.20" height="7.49" fill="#164a09"/><rect x="583.80" y="1122.83" width="47.20" height="7.49" fill="#3b0805"/><rect x="583.80" y="1129.72" width="47.20" height="14.37" fill="#1e630c"/><rect x="583.80" y="1143.49" width="47.20" height="7.49" fill="#071703"/><rect x="583.80" y="1150.38" width="47.20" height="7.49" fill="#3b0805"/><rect x="583.80" y="1157.26" width="47.20" height="7.49" fill="#164a09"/><rect x="583.80" y="1164.15" width="47.20" height="7.49" fill="#278210"/><rect x="583.80" y="1171.04" width="47.20" height="7.49" fill="#164a09"/><rect x="583.80" y="1177.92" width="47.20" height="7.49" fill="#0d2b05"/><rect x="583.80" y="1184.81" width="47.20" height="7.49" fill="#071703"/><rect x="583.80" y="1191.70" width="47.20" height="7.49" fill="#0d2b05"/><rect x="583.80" y="1198.58" width="47.20" height="21.26" fill="#164a09"/><rect x="583.80" y="1219.24" width="47.20" height="7.49" fill="#34ad16"/><rect x="583.80" y="1226.13" width="47.20" height="7.49" fill="#44e61d"/><rect x="583.80" y="1233.02" width="47.20" height="7.49" fill="#2e9913"/><rect x="583.80" y="1239.90" width="47.20" height="7.49" fill="#1e630c"/><rect x="583.80" y="1246.79" width="47.20" height="14.37" fill="#164a09"/><rect x="583.80" y="1260.56" width="47.20" height="14.37" fill="#0d2b05"/><rect x="583.80" y="1274.34" width="47.20" height="7.49" fill="#2e9913"/><rect x="583.80" y="1281.22" width="47.20" height="7.49" fill="#44e61d"/><rect x="583.80" y="1288.11" width="47.20" height="7.49" fill="#3b0805"/><rect x="583.80" y="1295.00" width="47.20" height="7.49" fill="#060404"/><rect x="583.80" y="1301.88" width="47.20" height="7.49" fill="#071703"/><rect x="583.80" y="1308.77" width="47.20" height="21.26" fill="#164a09"/><rect x="583.80" y="1329.43" width="47.20" height="7.49" fill="#200402"/><rect x="583.80" y="1336.31" width="47.20" height="7.49" fill="#071703"/><rect x="583.80" y="1343.20" width="47.20" height="14.37" fill="#3b0805"/><rect x="583.80" y="1356.97" width="47.20" height="7.49" fill="#0d2b05"/><rect x="583.80" y="1363.86" width="47.20" height="7.49" fill="#278210"/><rect x="583.80" y="1370.75" width="47.20" height="7.49" fill="#164a09"/><rect x="583.80" y="1377.63" width="47.20" height="7.49" fill="#060404"/><rect x="583.80" y="1384.52" width="47.20" height="7.49" fill="#690f08"/><rect x="583.80" y="1391.41" width="47.20" height="7.49" fill="#1e630c"/><rect x="583.80" y="1398.29" width="47.20" height="7.49" fill="#164a09"/><rect x="583.80" y="1405.18" width="47.20" height="7.49" fill="#1e630c"/><rect x="583.80" y="1412.07" width="47.20" height="21.26" fill="#2e9913"/><rect x="583.80" y="1432.73" width="47.20" height="7.49" fill="#34ad16"/><rect x="583.80" y="1439.61" width="47.20" height="7.49" fill="#1e630c"/><rect x="583.80" y="1446.50" width="47.20" height="7.49" fill="#060404"/><rect x="583.80" y="1453.39" width="47.20" height="7.49" fill="#278210"/><rect x="583.80" y="1460.27" width="47.20" height="7.49" fill="#0d2b05"/><rect x="583.80" y="1467.16" width="47.20" height="7.49" fill="#278210"/><rect x="583.80" y="1474.05" width="47.20" height="7.49" fill="#1e630c"/><rect x="583.80" y="1480.93" width="47.20" height="7.49" fill="#164a09"/><rect x="583.80" y="1487.82" width="47.20" height="7.49" fill="#060404"/><rect x="583.80" y="1494.71" width="47.20" height="7.49" fill="#164a09"/><rect x="583.80" y="1501.59" width="47.20" height="7.49" fill="#060404"/><rect x="583.80" y="1508.48" width="47.20" height="7.49" fill="#200402"/><rect x="583.80" y="1515.37" width="47.20" height="7.49" fill="#0d2b05"/><rect x="583.80" y="1522.25" width="47.20" height="7.49" fill="#164a09"/><rect x="583.80" y="1529.14" width="47.20" height="14.37" fill="#060404"/><rect x="583.80" y="1542.91" width="47.20" height="7.49" fill="#0d2b05"/><rect x="630.40" y="675.20" width="47.20" height="7.49" fill="#ff2414"/><rect x="630.40" y="682.09" width="47.20" height="7.49" fill="#3b0805"/><rect x="630.40" y="688.97" width="47.20" height="7.49" fill="#80120a"/><rect x="630.40" y="695.86" width="47.20" height="7.49" fill="#99160c"/><rect x="630.40" y="702.75" width="47.20" height="7.49" fill="#4f0b06"/><rect x="630.40" y="709.63" width="47.20" height="21.26" fill="#060404"/><rect x="630.40" y="730.29" width="47.20" height="7.49" fill="#4f0b06"/><rect x="630.40" y="737.18" width="47.20" height="7.49" fill="#200402"/><rect x="630.40" y="744.07" width="47.20" height="7.49" fill="#d11e10"/><rect x="630.40" y="750.95" width="47.20" height="14.37" fill="#690f08"/><rect x="630.40" y="764.73" width="47.20" height="7.49" fill="#1e630c"/><rect x="630.40" y="771.61" width="47.20" height="21.26" fill="#200402"/><rect x="630.40" y="792.27" width="47.20" height="7.49" fill="#0d2b05"/><rect x="630.40" y="799.16" width="47.20" height="7.49" fill="#4f0b06"/><rect x="630.40" y="806.05" width="47.20" height="21.26" fill="#060404"/><rect x="630.40" y="826.71" width="47.20" height="7.49" fill="#1e630c"/><rect x="630.40" y="833.59" width="47.20" height="7.49" fill="#200402"/><rect x="630.40" y="840.48" width="47.20" height="7.49" fill="#071703"/><rect x="630.40" y="847.37" width="47.20" height="7.49" fill="#278210"/><rect x="630.40" y="854.25" width="47.20" height="7.49" fill="#071703"/><rect x="630.40" y="861.14" width="47.20" height="14.37" fill="#0d2b05"/><rect x="630.40" y="874.91" width="47.20" height="14.37" fill="#1e630c"/><rect x="630.40" y="888.69" width="47.20" height="35.03" fill="#2e9913"/><rect x="630.40" y="923.12" width="47.20" height="7.49" fill="#164a09"/><rect x="630.40" y="930.00" width="47.20" height="7.49" fill="#0d2b05"/><rect x="630.40" y="936.89" width="47.20" height="7.49" fill="#200402"/><rect x="630.40" y="943.78" width="47.20" height="7.49" fill="#164a09"/><rect x="630.40" y="950.66" width="47.20" height="7.49" fill="#1e630c"/><rect x="630.40" y="957.55" width="47.20" height="7.49" fill="#278210"/><rect x="630.40" y="964.44" width="47.20" height="21.26" fill="#060404"/><rect x="630.40" y="985.10" width="47.20" height="7.49" fill="#0d2b05"/><rect x="630.40" y="991.98" width="47.20" height="7.49" fill="#071703"/><rect x="630.40" y="998.87" width="47.20" height="21.26" fill="#0d2b05"/><rect x="630.40" y="1019.53" width="47.20" height="7.49" fill="#2e9913"/><rect x="630.40" y="1026.42" width="47.20" height="7.49" fill="#164a09"/><rect x="630.40" y="1033.30" width="47.20" height="7.49" fill="#071703"/><rect x="630.40" y="1040.19" width="47.20" height="7.49" fill="#060404"/><rect x="630.40" y="1047.08" width="47.20" height="7.49" fill="#200402"/><rect x="630.40" y="1053.96" width="47.20" height="7.49" fill="#060404"/><rect x="630.40" y="1060.85" width="47.20" height="7.49" fill="#1e630c"/><rect x="630.40" y="1067.74" width="47.20" height="7.49" fill="#0d2b05"/><rect x="630.40" y="1074.62" width="47.20" height="7.49" fill="#071703"/><rect x="630.40" y="1081.51" width="47.20" height="7.49" fill="#44e61d"/><rect x="630.40" y="1088.40" width="47.20" height="7.49" fill="#278210"/><rect x="630.40" y="1095.28" width="47.20" height="7.49" fill="#2e9913"/><rect x="630.40" y="1102.17" width="47.20" height="7.49" fill="#0d2b05"/><rect x="630.40" y="1109.06" width="47.20" height="14.37" fill="#060404"/><rect x="630.40" y="1122.83" width="47.20" height="7.49" fill="#200402"/><rect x="630.40" y="1129.72" width="47.20" height="7.49" fill="#164a09"/><rect x="630.40" y="1136.60" width="47.20" height="7.49" fill="#060404"/><rect x="630.40" y="1143.49" width="47.20" height="7.49" fill="#4f0b06"/><rect x="630.40" y="1150.38" width="47.20" height="7.49" fill="#164a09"/><rect x="630.40" y="1157.26" width="47.20" height="21.26" fill="#278210"/><rect x="630.40" y="1177.92" width="47.20" height="7.49" fill="#1e630c"/><rect x="630.40" y="1184.81" width="47.20" height="7.49" fill="#0d2b05"/><rect x="630.40" y="1191.70" width="47.20" height="7.49" fill="#164a09"/><rect x="630.40" y="1198.58" width="47.20" height="28.15" fill="#1e630c"/><rect x="630.40" y="1226.13" width="47.20" height="7.49" fill="#071703"/><rect x="630.40" y="1233.02" width="47.20" height="7.49" fill="#0d2b05"/><rect x="630.40" y="1239.90" width="47.20" height="7.49" fill="#200402"/><rect x="630.40" y="1246.79" width="47.20" height="7.49" fill="#690f08"/><rect x="630.40" y="1253.68" width="47.20" height="14.37" fill="#071703"/><rect x="630.40" y="1267.45" width="47.20" height="7.49" fill="#4f0b06"/><rect x="630.40" y="1274.34" width="47.20" height="7.49" fill="#690f08"/><rect x="630.40" y="1281.22" width="47.20" height="7.49" fill="#0d2b05"/><rect x="630.40" y="1288.11" width="47.20" height="7.49" fill="#060404"/><rect x="630.40" y="1295.00" width="47.20" height="14.37" fill="#1e630c"/><rect x="630.40" y="1308.77" width="47.20" height="7.49" fill="#3b0805"/><rect x="630.40" y="1315.66" width="47.20" height="7.49" fill="#071703"/><rect x="630.40" y="1322.54" width="47.20" height="7.49" fill="#060404"/><rect x="630.40" y="1329.43" width="47.20" height="7.49" fill="#4f0b06"/><rect x="630.40" y="1336.31" width="47.20" height="7.49" fill="#690f08"/><rect x="630.40" y="1343.20" width="47.20" height="7.49" fill="#3b0805"/><rect x="630.40" y="1350.09" width="47.20" height="7.49" fill="#690f08"/><rect x="630.40" y="1356.97" width="47.20" height="7.49" fill="#1e630c"/><rect x="630.40" y="1363.86" width="47.20" height="7.49" fill="#071703"/><rect x="630.40" y="1370.75" width="47.20" height="14.37" fill="#164a09"/><rect x="630.40" y="1384.52" width="47.20" height="7.49" fill="#0d2b05"/><rect x="630.40" y="1391.41" width="47.20" height="7.49" fill="#200402"/><rect x="630.40" y="1398.29" width="47.20" height="7.49" fill="#060404"/><rect x="630.40" y="1405.18" width="47.20" height="7.49" fill="#690f08"/><rect x="630.40" y="1412.07" width="47.20" height="7.49" fill="#1e630c"/><rect x="630.40" y="1418.95" width="47.20" height="14.37" fill="#3b0805"/><rect x="630.40" y="1432.73" width="47.20" height="7.49" fill="#071703"/><rect x="630.40" y="1439.61" width="47.20" height="7.49" fill="#164a09"/><rect x="630.40" y="1446.50" width="47.20" height="7.49" fill="#060404"/><rect x="630.40" y="1453.39" width="47.20" height="7.49" fill="#200402"/><rect x="630.40" y="1460.27" width="47.20" height="7.49" fill="#4f0b06"/><rect x="630.40" y="1467.16" width="47.20" height="7.49" fill="#071703"/><rect x="630.40" y="1474.05" width="47.20" height="7.49" fill="#0d2b05"/><rect x="630.40" y="1480.93" width="47.20" height="7.49" fill="#200402"/><rect x="630.40" y="1487.82" width="47.20" height="7.49" fill="#0d2b05"/><rect x="630.40" y="1494.71" width="47.20" height="14.37" fill="#071703"/><rect x="630.40" y="1508.48" width="47.20" height="7.49" fill="#164a09"/><rect x="630.40" y="1515.37" width="47.20" height="14.37" fill="#3b0805"/><rect x="630.40" y="1529.14" width="47.20" height="7.49" fill="#060404"/><rect x="630.40" y="1536.03" width="47.20" height="7.49" fill="#278210"/><rect x="630.40" y="1542.91" width="47.20" height="7.49" fill="#0d2b05"/></g></g>
<path d="M117.8 754.4H114.9V761.3H117.8M117.8 899.0H112.3V905.9H117.8M117.8 1208.9H112.1V1215.8H117.8M117.8 1319.1H112.1V1326.0H117.8M117.8 1002.3H110.9V1009.2H117.8M112.3 902.5H110.1V912.8H117.8M117.8 802.6H110.0V809.5H117.8M110.1 907.6H109.3V919.7H117.8M117.8 816.4H109.2V823.3H117.8M117.8 974.8H109.1V981.7H117.8M117.8 878.4H109.0V885.2H117.8M110.9 1005.8H108.3V1016.1H117.8M117.8 1202.0H107.9V1212.4H112.1M117.8 781.9H107.5V788.8H117.8M117.8 1043.6H107.4V1050.5H117.8M117.8 713.1H107.1V720.0H117.8M117.8 1346.6H106.6V1353.5H117.8M117.8 1456.8H106.5V1463.7H117.8M117.8 871.5H106.4V881.8H109.0M117.8 1332.9H105.1V1339.8H117.8M117.8 1029.9H105.0V1036.7H117.8M117.8 1195.1H105.0V1207.2H107.9M117.8 947.2H105.0V954.1H117.8M107.4 1047.1H104.8V1057.4H117.8M117.8 1443.1H104.6V1449.9H117.8M117.8 775.1H104.6V785.4H107.5M117.8 1498.2H104.5V1505.0H117.8M117.8 1381.1H104.0V1388.0H117.8M117.8 1525.7H103.9V1532.6H117.8M117.8 1250.2H103.9V1257.1H117.8M110.0 806.0H103.5V819.8H109.2M117.8 1401.7H103.0V1408.6H117.8M117.8 1091.8H102.6V1098.7H117.8M117.8 1140.0H102.5V1146.9H117.8M105.0 1033.3H102.3V1052.2H104.8M117.8 1491.3H102.1V1501.6H104.5M117.8 1518.8H102.0V1529.1H103.9M117.8 892.1H101.8V913.6H109.3M117.8 1174.5H101.6V1181.4H117.8M117.8 747.5H101.4V757.8H114.9M117.8 685.5H100.8V692.4H117.8M117.8 995.4H100.7V1010.9H108.3M117.8 795.7H100.7V812.9H103.5M117.8 1160.7H100.5V1167.6H117.8M117.8 967.9H100.4V978.2H109.1M103.9 1253.7H100.2V1264.0H117.8M117.8 1367.3H99.8V1374.2H117.8M105.1 1336.3H99.5V1350.1H106.6M117.8 1312.2H99.5V1322.5H112.1M117.8 1222.7H99.4V1229.6H117.8M117.8 1105.6H99.3V1112.5H117.8M117.8 706.2H99.2V716.5H107.1M117.8 988.5H99.2V1003.2H100.7M117.8 1477.5H99.0V1484.4H117.8M117.8 1236.5H99.0V1243.3H117.8M117.8 1277.8H98.9V1284.7H117.8M117.8 1298.4H98.8V1305.3H117.8M117.8 1133.2H98.6V1143.5H102.5M117.8 1394.9H98.4V1405.2H103.0M117.8 926.6H98.1V933.4H117.8M117.8 850.8H97.6V857.7H117.8M117.8 1064.3H97.6V1071.2H117.8M117.8 1511.9H97.6V1524.0H102.0M117.8 864.6H97.0V876.6H106.4M117.8 1360.4H96.9V1370.7H99.8M117.8 1119.4H96.5V1126.3H117.8M106.5 1460.3H96.4V1470.6H117.8M117.8 1422.4H96.4V1429.3H117.8M100.2 1258.8H96.3V1270.9H117.8M104.6 780.2H96.3V804.3H100.7M117.8 740.6H96.1V752.7H101.4M102.1 1496.4H95.9V1517.9H97.6M117.8 1436.2H95.8V1446.5H104.6M117.8 1188.3H95.7V1201.2H105.0M100.4 973.0H95.6V995.9H99.2M117.8 1291.6H94.4V1301.9H98.8M96.4 1465.4H94.3V1480.9H99.0M99.3 1109.1H94.0V1122.8H96.5M99.4 1226.1H93.7V1239.9H99.0M94.4 1296.7H93.4V1317.4H99.5M101.6 1177.9H93.3V1194.7H95.7M117.8 837.0H93.1V843.9H117.8M117.8 733.7H93.0V746.6H96.1M117.8 961.0H92.8V984.5H95.6M104.0 1384.5H92.6V1400.0H98.4M117.8 699.3H92.6V711.4H99.2M97.6 854.3H92.4V870.6H97.0M117.8 940.3H91.6V950.7H105.0M117.8 1539.5H91.2V1546.4H117.8M117.8 1085.0H91.1V1095.3H102.6M117.8 1023.0H90.9V1042.8H102.3M117.8 1153.8H90.8V1164.1H100.5M96.3 1264.9H90.1V1281.2H98.9M94.0 1115.9H89.5V1138.3H98.6M97.6 1067.7H89.4V1078.1H117.8M96.4 1425.8H89.1V1441.3H95.8M93.7 1233.0H88.6V1273.0H90.1M95.9 1507.2H88.5V1542.9H91.2M117.8 768.2H88.1V792.3H96.3M101.8 902.9H87.8V930.0H98.1M92.8 972.7H87.7V1032.9H90.9M96.9 1365.6H87.2V1392.3H92.6M100.8 689.0H85.1V705.3H92.6M117.8 830.1H85.0V840.5H93.1M89.5 1127.1H84.9V1159.0H90.8M93.4 1307.0H84.9V1343.2H99.5M84.9 1325.1H84.0V1378.9H87.2M93.3 1186.3H83.7V1253.0H88.6M88.1 780.2H82.1V835.3H85.0M92.4 862.4H81.7V916.4H87.8M117.8 1415.5H81.7V1433.6H89.1M117.8 726.8H81.2V740.2H93.0M117.8 678.6H80.7V697.2H85.1M84.9 1143.1H79.2V1219.7H83.7M81.7 889.4H78.8V945.5H91.6M94.3 1473.2H78.5V1525.1H88.5M89.4 1072.9H78.4V1090.1H91.1M78.4 1081.5H76.8V1181.4H79.2M84.0 1352.0H76.4V1424.5H81.7M81.2 733.5H74.8V807.8H82.1M76.4 1388.3H74.7V1499.1H78.5M78.8 917.5H74.5V1002.8H87.7M76.8 1131.4H70.7V1443.7H74.7M80.7 687.9H69.6V770.6H74.8M74.5 960.1H69.3V1287.6H70.7M69.6 729.3H52.3V1123.9H69.3" fill="none" stroke="#000" stroke-width="1.25"/>
<defs><linearGradient id="hg" x1="0" y1="0" x2="0" y2="1"><stop offset="0" stop-color="#ff2414"/><stop offset="0.07" stop-color="#ff2414"/><stop offset="0.5" stop-color="#000"/><stop offset="0.93" stop-color="#4cff20"/><stop offset="1" stop-color="#4cff20"/></linearGradient></defs>
<rect x="807.20" y="687.60" width="16.40" height="240.20" fill="url(#hg)"/>
<text x="829.00" y="724.90" font-size="15.8">2</text>
<text x="829.00" y="768.90" font-size="15.8">1</text>
<text x="829.00" y="812.90" font-size="15.8">0</text>
<text x="829.00" y="856.90" font-size="15.8">-1</text>
<text x="829.00" y="900.80" font-size="15.8">-2</text>
<text x="879.20" y="707.30" font-size="25" font-weight="bold">Group</text>
<rect x="879.20" y="724.30" width="33.80" height="33.90" fill="#4f9cf5"/>
<rect x="879.20" y="758.10" width="33.80" height="33.90" fill="#f28a1e"/>
<text x="920.00" y="749.70" font-size="23.2">MOD</text>
<text x="920.00" y="783.50" font-size="23.2">SMD</text>
<line x1="680.60" y1="961.00" x2="718.70" y2="961.00" stroke="#000" stroke-width="1.7"/>
<text x="728.40" y="967.00" font-size="21.2">Lipoxin A4</text>
<line x1="680.60" y1="981.30" x2="718.70" y2="981.30" stroke="#000" stroke-width="1.7"/>
<text x="728.40" y="989.00" font-size="21.2" fill="#f00">Indoxyl sulfate</text>
<line x1="680.60" y1="1100.30" x2="718.70" y2="1100.30" stroke="#000" stroke-width="1.7"/>
<text x="728.40" y="1106.80" font-size="21.2">UDP glucose</text>
<line x1="678.20" y1="1250.70" x2="716.80" y2="1250.50" stroke="#000" stroke-width="1.7"/>
<text x="726.60" y="1256.20" font-size="21.2">Indole-3-carboxylic acid</text>
<line x1="678.20" y1="1257.50" x2="715.00" y2="1271.70" stroke="#000" stroke-width="1.7"/>
<text x="725.50" y="1279.80" font-size="21.2">1,5-anhydroglucitol</text>
<line x1="680.50" y1="1443.50" x2="719.00" y2="1429.50" stroke="#000" stroke-width="1.7"/>
<text x="728.20" y="1437.30" font-size="21.2">Methylguanidine</text>
<line x1="680.00" y1="1450.30" x2="718.50" y2="1450.30" stroke="#000" stroke-width="1.7"/>
<text x="730.40" y="1458.90" font-size="21.2" fill="#f00">p-Cresol</text>
<line x1="680.00" y1="1546.60" x2="718.50" y2="1546.60" stroke="#000" stroke-width="1.7"/>
<text x="729.50" y="1550.10" font-size="21.2">Folic acid</text></g>
<g id="panelE"><rect x="1192.60" y="878.90" width="40.89" height="40.89" fill="#2D5F82"/>
<rect x="1233.19" y="878.90" width="40.89" height="40.89" fill="#B5CED9"/>
<rect x="1273.78" y="878.90" width="40.89" height="40.89" fill="#F6E6F4"/>
<rect x="1314.37" y="878.90" width="40.89" height="40.89" fill="#ECC3E5"/>
<rect x="1354.96" y="878.90" width="40.89" height="40.89" fill="#F7EBF6"/>
<rect x="1395.55" y="878.90" width="40.89" height="40.89" fill="#5287A0"/>
<rect x="1436.14" y="878.90" width="40.89" height="40.89" fill="#7BA2B5"/>
<rect x="1476.73" y="878.90" width="40.89" height="40.89" fill="#5C8FA6"/>
<rect x="1192.60" y="919.49" width="40.89" height="40.89" fill="#88AEC1"/>
<rect x="1233.19" y="919.49" width="40.89" height="40.89" fill="#BED6DE"/>
<rect x="1273.78" y="919.49" width="40.89" height="40.89" fill="#F5E4F3"/>
<rect x="1314.37" y="919.49" width="40.89" height="40.89" fill="#F5E4F3"/>
<rect x="1354.96" y="919.49" width="40.89" height="40.89" fill="#FAFAFB"/>
<rect x="1395.55" y="919.49" width="40.89" height="40.89" fill="#B2CCD7"/>
<rect x="1436.14" y="919.49" width="40.89" height="40.89" fill="#D4E4E9"/>
<rect x="1476.73" y="919.49" width="40.89" height="40.89" fill="#BAD1DB"/>
<rect x="1192.60" y="960.08" width="40.89" height="40.89" fill="#E9F2F4"/>
<rect x="1233.19" y="960.08" width="40.89" height="40.89" fill="#D034AB"/>
<rect x="1273.78" y="960.08" width="40.89" height="40.89" fill="#D544B4"/>
<rect x="1314.37" y="960.08" width="40.89" height="40.89" fill="#D034AB"/>
<rect x="1354.96" y="960.08" width="40.89" height="40.89" fill="#D23EB0"/>
<rect x="1395.55" y="960.08" width="40.89" height="40.89" fill="#DA5FC0"/>
<rect x="1436.14" y="960.08" width="40.89" height="40.89" fill="#D74FB9"/>
<rect x="1476.73" y="960.08" width="40.89" height="40.89" fill="#DA5FC0"/>
<rect x="1192.60" y="1000.67" width="40.89" height="40.89" fill="#DFEBEF"/>
<rect x="1233.19" y="1000.67" width="40.89" height="40.89" fill="#D23EB0"/>
<rect x="1273.78" y="1000.67" width="40.89" height="40.89" fill="#D74CB8"/>
<rect x="1314.37" y="1000.67" width="40.89" height="40.89" fill="#D034AB"/>
<rect x="1354.96" y="1000.67" width="40.89" height="40.89" fill="#D137AD"/>
<rect x="1395.55" y="1000.67" width="40.89" height="40.89" fill="#E187D0"/>
<rect x="1436.14" y="1000.67" width="40.89" height="40.89" fill="#DA5EC0"/>
<rect x="1476.73" y="1000.67" width="40.89" height="40.89" fill="#E187D0"/>
<rect x="1192.60" y="1041.26" width="40.89" height="40.89" fill="#6F9DB2"/>
<rect x="1233.19" y="1041.26" width="40.89" height="40.89" fill="#E69FD9"/>
<rect x="1273.78" y="1041.26" width="40.89" height="40.89" fill="#E08ED2"/>
<rect x="1314.37" y="1041.26" width="40.89" height="40.89" fill="#E08ED2"/>
<rect x="1354.96" y="1041.26" width="40.89" height="40.89" fill="#F2D8EE"/>
<rect x="1395.55" y="1041.26" width="40.89" height="40.89" fill="#E4F0F1"/>
<rect x="1436.14" y="1041.26" width="40.89" height="40.89" fill="#EBB4E1"/>
<rect x="1476.73" y="1041.26" width="40.89" height="40.89" fill="#F6E8F5"/>
<rect x="1192.60" y="1081.85" width="40.89" height="40.89" fill="#A5C3D0"/>
<rect x="1233.19" y="1081.85" width="40.89" height="40.89" fill="#D64BB7"/>
<rect x="1273.78" y="1081.85" width="40.89" height="40.89" fill="#D544B4"/>
<rect x="1314.37" y="1081.85" width="40.89" height="40.89" fill="#D23CB0"/>
<rect x="1354.96" y="1081.85" width="40.89" height="40.89" fill="#E6A8DC"/>
<rect x="1395.55" y="1081.85" width="40.89" height="40.89" fill="#EEC6E8"/>
<rect x="1436.14" y="1081.85" width="40.89" height="40.89" fill="#DE77C9"/>
<rect x="1476.73" y="1081.85" width="40.89" height="40.89" fill="#E28DD2"/>
<rect x="1192.60" y="1122.44" width="40.89" height="40.89" fill="#E9F2F4"/>
<rect x="1233.19" y="1122.44" width="40.89" height="40.89" fill="#DE80CD"/>
<rect x="1273.78" y="1122.44" width="40.89" height="40.89" fill="#D547B5"/>
<rect x="1314.37" y="1122.44" width="40.89" height="40.89" fill="#D750B9"/>
<rect x="1354.96" y="1122.44" width="40.89" height="40.89" fill="#F6ECF6"/>
<rect x="1395.55" y="1122.44" width="40.89" height="40.89" fill="#F0D2EC"/>
<rect x="1436.14" y="1122.44" width="40.89" height="40.89" fill="#DE7FCC"/>
<rect x="1476.73" y="1122.44" width="40.89" height="40.89" fill="#E5A0D9"/>
<rect x="1192.60" y="1163.03" width="40.89" height="40.89" fill="#F3F8F9"/>
<rect x="1233.19" y="1163.03" width="40.89" height="40.89" fill="#E6AADD"/>
<rect x="1273.78" y="1163.03" width="40.89" height="40.89" fill="#D750B9"/>
<rect x="1314.37" y="1163.03" width="40.89" height="40.89" fill="#DD72C7"/>
<rect x="1354.96" y="1163.03" width="40.89" height="40.89" fill="#FDFBFD"/>
<rect x="1395.55" y="1163.03" width="40.89" height="40.89" fill="#F3E0F1"/>
<rect x="1436.14" y="1163.03" width="40.89" height="40.89" fill="#E6A5DB"/>
<rect x="1476.73" y="1163.03" width="40.89" height="40.89" fill="#E6A5DB"/>
<text x="1257.68" y="987.98" font-size="23.5" text-anchor="middle" font-weight="bold" letter-spacing="0.8">**</text>
<text x="1298.27" y="987.98" font-size="23.5" text-anchor="middle" font-weight="bold" letter-spacing="0.8">**</text>
<text x="1338.87" y="987.98" font-size="23.5" text-anchor="middle" font-weight="bold" letter-spacing="0.8">**</text>
<text x="1379.45" y="987.98" font-size="23.5" text-anchor="middle" font-weight="bold" letter-spacing="0.8">**</text>
<text x="1420.04" y="987.98" font-size="23.5" text-anchor="middle" font-weight="bold" letter-spacing="0.8">**</text>
<text x="1460.63" y="987.98" font-size="23.5" text-anchor="middle" font-weight="bold" letter-spacing="0.8">**</text>
<text x="1501.22" y="987.98" font-size="23.5" text-anchor="middle" font-weight="bold" letter-spacing="0.8">**</text>
<text x="1257.68" y="1028.56" font-size="23.5" text-anchor="middle" font-weight="bold" letter-spacing="0.8">**</text>
<text x="1298.27" y="1028.56" font-size="23.5" text-anchor="middle" font-weight="bold" letter-spacing="0.8">**</text>
<text x="1338.87" y="1028.56" font-size="23.5" text-anchor="middle" font-weight="bold" letter-spacing="0.8">**</text>
<text x="1379.45" y="1028.56" font-size="23.5" text-anchor="middle" font-weight="bold" letter-spacing="0.8">**</text>
<text x="1420.04" y="1028.56" font-size="23.5" text-anchor="middle" font-weight="bold" letter-spacing="0.8">*</text>
<text x="1460.63" y="1028.56" font-size="23.5" text-anchor="middle" font-weight="bold" letter-spacing="0.8">**</text>
<text x="1501.22" y="1028.56" font-size="23.5" text-anchor="middle" font-weight="bold" letter-spacing="0.8">*</text>
<text x="1257.68" y="1069.15" font-size="23.5" text-anchor="middle" font-weight="bold" letter-spacing="0.8">*</text>
<text x="1298.27" y="1069.15" font-size="23.5" text-anchor="middle" font-weight="bold" letter-spacing="0.8">*</text>
<text x="1338.87" y="1069.15" font-size="23.5" text-anchor="middle" font-weight="bold" letter-spacing="0.8">*</text>
<text x="1257.68" y="1109.74" font-size="23.5" text-anchor="middle" font-weight="bold" letter-spacing="0.8">**</text>
<text x="1298.27" y="1109.74" font-size="23.5" text-anchor="middle" font-weight="bold" letter-spacing="0.8">**</text>
<text x="1338.87" y="1109.74" font-size="23.5" text-anchor="middle" font-weight="bold" letter-spacing="0.8">**</text>
<text x="1460.63" y="1109.74" font-size="23.5" text-anchor="middle" font-weight="bold" letter-spacing="0.8">*</text>
<text x="1501.22" y="1109.74" font-size="23.5" text-anchor="middle" font-weight="bold" letter-spacing="0.8">*</text>
<text x="1257.68" y="1150.34" font-size="23.5" text-anchor="middle" font-weight="bold" letter-spacing="0.8">*</text>
<text x="1298.27" y="1150.34" font-size="23.5" text-anchor="middle" font-weight="bold" letter-spacing="0.8">**</text>
<text x="1338.87" y="1150.34" font-size="23.5" text-anchor="middle" font-weight="bold" letter-spacing="0.8">**</text>
<text x="1460.63" y="1150.34" font-size="23.5" text-anchor="middle" font-weight="bold" letter-spacing="0.8">*</text>
<text x="1298.27" y="1190.92" font-size="23.5" text-anchor="middle" font-weight="bold" letter-spacing="0.8">**</text>
<text x="1338.87" y="1190.92" font-size="23.5" text-anchor="middle" font-weight="bold" letter-spacing="0.8">*</text>
<text x="1530.00" y="910.99" font-size="32.3">UDPglucose</text>
<text x="1530.00" y="951.58" font-size="32.3">Folic acid</text>
<text x="1530.00" y="992.17" font-size="32.3" fill="#f00">p−Cresol</text>
<text x="1530.00" y="1032.76" font-size="32.3">Methylguanidine</text>
<text x="1530.00" y="1073.36" font-size="32.3">Lipoxin A4</text>
<text x="1530.00" y="1113.94" font-size="32.3" fill="#f00">Indoxyl sulfate</text>
<text x="1530.00" y="1154.54" font-size="32.3">1,5−anhydroglucitol</text>
<text x="1530.00" y="1195.12" font-size="32.3">Indole−3−carboxylic acid</text>
<text x="1205.10" y="1213.20" font-size="32.3" transform="rotate(90 1205.10 1213.20)">BUN</text>
<text x="1245.68" y="1213.20" font-size="32.3" transform="rotate(90 1245.68 1213.20)">UA</text>
<text x="1286.27" y="1213.20" font-size="32.3" transform="rotate(90 1286.27 1213.20)">KIM-1</text>
<text x="1326.87" y="1213.20" font-size="32.3" transform="rotate(90 1326.87 1213.20)">NGAL</text>
<text x="1367.45" y="1213.20" font-size="32.3" transform="rotate(90 1367.45 1213.20)">SCR</text>
<text x="1408.04" y="1213.20" font-size="32.3" transform="rotate(90 1408.04 1213.20)">CysC</text>
<text x="1448.63" y="1213.20" font-size="32.3" transform="rotate(90 1448.63 1213.20)">β2-MG</text>
<text x="1489.22" y="1213.20" font-size="32.3" transform="rotate(90 1489.22 1213.20)">RBP</text>
<path d="M1294.07 878.90V864.10H1334.66V878.90M1456.43 878.90V860.40H1497.02V878.90M1253.48 878.90V842.39H1314.37V864.10M1415.84 878.90V839.66H1476.73V860.40M1375.25 878.90V825.99H1446.29V839.66M1283.93 842.39V795.92H1410.77V825.99M1212.89 878.90V771.86H1347.35V795.92M1192.60 899.19H1153.02V939.78H1192.60M1192.60 980.38H1180.36V1020.96H1192.60M1192.60 1142.74H1180.36V1183.33H1192.60M1192.60 1102.14H1160.13V1163.03H1180.36M1192.60 1061.56H1153.02V1132.59H1160.13M1180.36 1000.67H1121.86V1097.07H1153.02M1153.02 919.49H1083.58V1048.87H1121.86" fill="none" stroke="#000" stroke-width="1.7"/>
<defs><linearGradient id="eg" x1="0" y1="0" x2="0" y2="1"><stop offset="0" stop-color="#d033ab"/><stop offset="0.25" stop-color="#e695d5"/><stop offset="0.5" stop-color="#ffffff"/><stop offset="0.75" stop-color="#93b5c6"/><stop offset="1" stop-color="#2b5f83"/></linearGradient></defs>
<rect x="1817.40" y="813.40" width="17.60" height="272.40" fill="url(#eg)"/>
<text x="1846.90" y="846.61" font-size="21.3">0.8</text>
<text x="1846.90" y="892.54" font-size="21.3">0.6</text>
<text x="1846.90" y="938.47" font-size="21.3">0.4</text>
<text x="1846.90" y="984.40" font-size="21.3">0.2</text>
<text x="1846.90" y="1030.33" font-size="21.3">0</text>
<text x="1846.90" y="1076.26" font-size="21.3">−0.2</text></g>
<g id="bars"><text x="1077.30" y="1439.80" font-size="25.35" font-weight="bold">Indole in the feces</text>
<rect x="1143.10" y="1583.70" width="49.70" height="116.70" fill="#9cc6f8" stroke="#000" stroke-width="1.9"/>
<rect x="1216.80" y="1671.30" width="49.70" height="29.10" fill="#f0be80" stroke="#000" stroke-width="1.9"/>
<line x1="1167.70" y1="1506.20" x2="1167.70" y2="1583.70" stroke="#000" stroke-width="1.8"/>
<line x1="1155.00" y1="1506.20" x2="1180.00" y2="1506.20" stroke="#000" stroke-width="1.8"/>
<line x1="1241.50" y1="1662.50" x2="1241.50" y2="1671.30" stroke="#000" stroke-width="1.8"/>
<line x1="1229.10" y1="1662.50" x2="1253.50" y2="1662.50" stroke="#000" stroke-width="1.8"/>
<line x1="1131.10" y1="1477.90" x2="1131.10" y2="1701.20" stroke="#000" stroke-width="2"/>
<line x1="1124.10" y1="1700.40" x2="1280.10" y2="1700.40" stroke="#000" stroke-width="2"/>
<line x1="1123.90" y1="1478.70" x2="1131.10" y2="1478.70" stroke="#000" stroke-width="1.8"/>
<text x="1115.93" y="1484.80" font-size="12.8" text-anchor="end" font-weight="bold">2.0×10</text>
<text x="1115.93" y="1479.60" font-size="7.5" font-weight="bold">8</text>
<line x1="1123.90" y1="1534.60" x2="1131.10" y2="1534.60" stroke="#000" stroke-width="1.8"/>
<text x="1115.93" y="1540.70" font-size="12.8" text-anchor="end" font-weight="bold">1.5×10</text>
<text x="1115.93" y="1535.50" font-size="7.5" font-weight="bold">8</text>
<line x1="1123.90" y1="1590.20" x2="1131.10" y2="1590.20" stroke="#000" stroke-width="1.8"/>
<text x="1115.93" y="1596.30" font-size="12.8" text-anchor="end" font-weight="bold">1.0×10</text>
<text x="1115.93" y="1591.10" font-size="7.5" font-weight="bold">8</text>
<line x1="1123.90" y1="1645.50" x2="1131.10" y2="1645.50" stroke="#000" stroke-width="1.8"/>
<text x="1115.93" y="1651.60" font-size="12.8" text-anchor="end" font-weight="bold">5.0×10</text>
<text x="1115.93" y="1646.40" font-size="7.5" font-weight="bold">7</text>
<line x1="1123.90" y1="1700.40" x2="1131.10" y2="1700.40" stroke="#000" stroke-width="1.8"/>
<text x="1121.80" y="1706.50" font-size="12.8" text-anchor="end" font-weight="bold">0</text>
<path d="M1168.10 1497.60V1482.90H1238.40V1497.60" fill="none" stroke="#000" stroke-width="1.7"/>
<text x="1202.10" y="1481.90" font-size="20" text-anchor="middle" stroke="#000" stroke-width="0.4">*</text>
<text x="1066.50" y="1574.50" font-size="21" text-anchor="middle" font-weight="bold" transform="rotate(-90 1066.50 1574.50)">Abundance</text>
<text x="1465.80" y="1383.50" font-size="25.35" font-weight="bold">Indoxyl sulfate</text>
<text x="1465.80" y="1413.30" font-size="25.35" font-weight="bold">in the kidneys</text>
<rect x="1510.90" y="1552.70" width="50.50" height="146.90" fill="#9cc6f8" stroke="#000" stroke-width="1.9"/>
<rect x="1585.60" y="1619.60" width="50.00" height="80.00" fill="#f0be80" stroke="#000" stroke-width="1.9"/>
<line x1="1536.10" y1="1490.40" x2="1536.10" y2="1552.70" stroke="#000" stroke-width="1.8"/>
<line x1="1523.20" y1="1490.40" x2="1548.50" y2="1490.40" stroke="#000" stroke-width="1.8"/>
<line x1="1610.90" y1="1589.90" x2="1610.90" y2="1619.60" stroke="#000" stroke-width="1.8"/>
<line x1="1597.70" y1="1589.90" x2="1623.20" y2="1589.90" stroke="#000" stroke-width="1.8"/>
<line x1="1499.00" y1="1474.80" x2="1499.00" y2="1700.40" stroke="#000" stroke-width="2"/>
<line x1="1491.70" y1="1699.60" x2="1649.40" y2="1699.60" stroke="#000" stroke-width="2"/>
<line x1="1491.80" y1="1476.00" x2="1499.00" y2="1476.00" stroke="#000" stroke-width="1.8"/>
<text x="1487.13" y="1482.10" font-size="12.8" text-anchor="end" font-weight="bold">4.0×10</text>
<text x="1487.13" y="1476.90" font-size="7.5" font-weight="bold">7</text>
<line x1="1491.80" y1="1532.50" x2="1499.00" y2="1532.50" stroke="#000" stroke-width="1.8"/>
<text x="1487.13" y="1538.60" font-size="12.8" text-anchor="end" font-weight="bold">3.0×10</text>
<text x="1487.13" y="1533.40" font-size="7.5" font-weight="bold">7</text>
<line x1="1491.80" y1="1588.50" x2="1499.00" y2="1588.50" stroke="#000" stroke-width="1.8"/>
<text x="1487.13" y="1594.60" font-size="12.8" text-anchor="end" font-weight="bold">2.0×10</text>
<text x="1487.13" y="1589.40" font-size="7.5" font-weight="bold">7</text>
<line x1="1491.80" y1="1644.40" x2="1499.00" y2="1644.40" stroke="#000" stroke-width="1.8"/>
<text x="1487.13" y="1650.50" font-size="12.8" text-anchor="end" font-weight="bold">1.0×10</text>
<text x="1487.13" y="1645.30" font-size="7.5" font-weight="bold">7</text>
<line x1="1491.80" y1="1699.60" x2="1499.00" y2="1699.60" stroke="#000" stroke-width="1.8"/>
<text x="1488.80" y="1705.70" font-size="12.8" text-anchor="end" font-weight="bold">0</text>
<path d="M1535.30 1483.60V1468.70H1606.30V1483.60" fill="none" stroke="#000" stroke-width="1.7"/>
<text x="1569.60" y="1467.90" font-size="20" text-anchor="middle" stroke="#000" stroke-width="0.4">*</text>
<text x="1434.30" y="1580.00" font-size="21" text-anchor="middle" font-weight="bold" transform="rotate(-90 1434.30 1580.00)">Abundance</text>
<text x="1758.60" y="1383.50" font-size="25.35" font-weight="bold">Indoxyl sulfate</text>
<text x="1758.60" y="1413.30" font-size="25.35" font-weight="bold">in the serum</text>
<rect x="1779.00" y="1475.30" width="55.00" height="220.30" fill="#9cc6f8" stroke="#000" stroke-width="1.9"/>
<rect x="1861.50" y="1492.20" width="55.60" height="203.40" fill="#f0be80" stroke="#000" stroke-width="1.9"/>
<line x1="1806.50" y1="1464.70" x2="1806.50" y2="1475.30" stroke="#000" stroke-width="1.8"/>
<line x1="1792.20" y1="1464.70" x2="1820.30" y2="1464.70" stroke="#000" stroke-width="1.8"/>
<line x1="1889.00" y1="1482.50" x2="1889.00" y2="1492.20" stroke="#000" stroke-width="1.8"/>
<line x1="1874.90" y1="1482.50" x2="1902.80" y2="1482.50" stroke="#000" stroke-width="1.8"/>
<line x1="1764.90" y1="1445.20" x2="1764.90" y2="1696.40" stroke="#000" stroke-width="2"/>
<line x1="1757.00" y1="1695.60" x2="1932.70" y2="1695.60" stroke="#000" stroke-width="2"/>
<line x1="1757.70" y1="1446.00" x2="1764.90" y2="1446.00" stroke="#000" stroke-width="1.8"/>
<text x="1747.10" y="1452.10" font-size="12.8" text-anchor="end" font-weight="bold">100</text>
<line x1="1757.70" y1="1496.80" x2="1764.90" y2="1496.80" stroke="#000" stroke-width="1.8"/>
<text x="1751.60" y="1502.90" font-size="12.8" text-anchor="end" font-weight="bold">80</text>
<line x1="1757.70" y1="1546.70" x2="1764.90" y2="1546.70" stroke="#000" stroke-width="1.8"/>
<text x="1751.60" y="1552.80" font-size="12.8" text-anchor="end" font-weight="bold">60</text>
<line x1="1757.70" y1="1596.20" x2="1764.90" y2="1596.20" stroke="#000" stroke-width="1.8"/>
<text x="1751.60" y="1602.30" font-size="12.8" text-anchor="end" font-weight="bold">40</text>
<line x1="1757.70" y1="1645.70" x2="1764.90" y2="1645.70" stroke="#000" stroke-width="1.8"/>
<text x="1751.60" y="1651.80" font-size="12.8" text-anchor="end" font-weight="bold">20</text>
<line x1="1757.70" y1="1695.60" x2="1764.90" y2="1695.60" stroke="#000" stroke-width="1.8"/>
<text x="1751.80" y="1701.70" font-size="12.8" text-anchor="end" font-weight="bold">0</text>
<path d="M1806.50 1455.90V1439.00H1885.70V1455.90" fill="none" stroke="#000" stroke-width="1.7"/>
<text x="1849.20" y="1435.40" font-size="20" text-anchor="middle" letter-spacing="4" stroke="#000" stroke-width="0.4">**</text>
<text x="1715.50" y="1557.30" font-size="21" text-anchor="middle" font-weight="bold" transform="rotate(-90 1715.50 1557.30)">pg/ml</text>
<text x="1289.60" y="2026.90" font-size="25.35" font-weight="bold">p-Cresol in the kidneys</text>
<rect x="1398.90" y="2198.50" width="49.40" height="129.70" fill="#9cc6f8" stroke="#000" stroke-width="1.9"/>
<rect x="1473.30" y="2269.00" width="49.90" height="59.20" fill="#f0be80" stroke="#000" stroke-width="1.9"/>
<line x1="1423.70" y1="2130.00" x2="1423.70" y2="2198.50" stroke="#000" stroke-width="1.8"/>
<line x1="1410.60" y1="2130.00" x2="1435.60" y2="2130.00" stroke="#000" stroke-width="1.8"/>
<line x1="1498.20" y1="2237.70" x2="1498.20" y2="2269.00" stroke="#000" stroke-width="1.8"/>
<line x1="1485.10" y1="2237.70" x2="1510.30" y2="2237.70" stroke="#000" stroke-width="1.8"/>
<line x1="1386.50" y1="2102.80" x2="1386.50" y2="2329.00" stroke="#000" stroke-width="2"/>
<line x1="1379.40" y1="2328.20" x2="1537.00" y2="2328.20" stroke="#000" stroke-width="2"/>
<line x1="1379.30" y1="2103.60" x2="1386.50" y2="2103.60" stroke="#000" stroke-width="1.8"/>
<text x="1377.10" y="2109.70" font-size="12.8" text-anchor="end" font-weight="bold">300000</text>
<line x1="1379.30" y1="2178.60" x2="1386.50" y2="2178.60" stroke="#000" stroke-width="1.8"/>
<text x="1377.10" y="2184.70" font-size="12.8" text-anchor="end" font-weight="bold">200000</text>
<line x1="1379.30" y1="2253.50" x2="1386.50" y2="2253.50" stroke="#000" stroke-width="1.8"/>
<text x="1377.10" y="2259.60" font-size="12.8" text-anchor="end" font-weight="bold">100000</text>
<line x1="1379.30" y1="2328.20" x2="1386.50" y2="2328.20" stroke="#000" stroke-width="1.8"/>
<text x="1375.80" y="2334.30" font-size="12.8" text-anchor="end" font-weight="bold">0</text>
<path d="M1423.70 2123.10V2107.50H1494.80V2123.10" fill="none" stroke="#000" stroke-width="1.7"/>
<text x="1458.40" y="2107.00" font-size="20" text-anchor="middle" stroke="#000" stroke-width="0.4">*</text>
<text x="1322.30" y="2210.70" font-size="21" text-anchor="middle" font-weight="bold" transform="rotate(-90 1322.30 2210.70)">Abundance</text>
<text x="1632.10" y="2027.30" font-size="25.35" font-weight="bold">p-Cresol in the serum</text>
<rect x="1664.80" y="2099.50" width="57.20" height="227.50" fill="#9cc6f8" stroke="#000" stroke-width="1.9"/>
<rect x="1749.90" y="2122.90" width="57.40" height="204.10" fill="#f0be80" stroke="#000" stroke-width="1.9"/>
<line x1="1693.30" y1="2088.00" x2="1693.30" y2="2099.50" stroke="#000" stroke-width="1.8"/>
<line x1="1678.30" y1="2088.00" x2="1707.20" y2="2088.00" stroke="#000" stroke-width="1.8"/>
<line x1="1778.40" y1="2108.20" x2="1778.40" y2="2122.90" stroke="#000" stroke-width="1.8"/>
<line x1="1763.60" y1="2108.20" x2="1792.90" y2="2108.20" stroke="#000" stroke-width="1.8"/>
<line x1="1650.90" y1="2069.80" x2="1650.90" y2="2327.80" stroke="#000" stroke-width="2"/>
<line x1="1643.10" y1="2327.00" x2="1823.20" y2="2327.00" stroke="#000" stroke-width="2"/>
<line x1="1643.70" y1="2070.60" x2="1650.90" y2="2070.60" stroke="#000" stroke-width="1.8"/>
<text x="1634.80" y="2076.70" font-size="12.8" text-anchor="end" font-weight="bold">150</text>
<line x1="1643.70" y1="2156.90" x2="1650.90" y2="2156.90" stroke="#000" stroke-width="1.8"/>
<text x="1634.80" y="2163.00" font-size="12.8" text-anchor="end" font-weight="bold">100</text>
<line x1="1643.70" y1="2242.00" x2="1650.90" y2="2242.00" stroke="#000" stroke-width="1.8"/>
<text x="1639.60" y="2248.10" font-size="12.8" text-anchor="end" font-weight="bold">50</text>
<line x1="1643.70" y1="2327.00" x2="1650.90" y2="2327.00" stroke="#000" stroke-width="1.8"/>
<text x="1638.40" y="2333.10" font-size="12.8" text-anchor="end" font-weight="bold">0</text>
<path d="M1693.30 2080.70V2063.60H1774.80V2080.70" fill="none" stroke="#000" stroke-width="1.7"/>
<text x="1736.80" y="2059.70" font-size="20" text-anchor="middle" letter-spacing="4" stroke="#000" stroke-width="0.4">**</text>
<text x="1606.80" y="2188.20" font-size="21" text-anchor="middle" font-weight="bold" transform="rotate(-90 1606.80 2188.20)">pg/ml</text></g>
<g id="panelF"><text x="255.50" y="1975.70" font-size="38" text-anchor="middle" font-weight="bold">Dietary aromatic</text>
<text x="260.00" y="2020.80" font-size="38" text-anchor="middle" font-weight="bold">compounds</text>
<text x="646.40" y="1951.60" font-size="38" text-anchor="middle" font-weight="bold">Tryptophan</text>
<text x="652.80" y="2246.50" font-size="38" text-anchor="middle" font-weight="bold">Tyrosine</text>
<text x="1165.50" y="1952.00" font-size="38" text-anchor="middle" font-weight="bold">Indole</text>
<text x="1613.80" y="1950.30" font-size="38" text-anchor="middle" font-weight="bold">Indoxyl sulfate</text>
<text x="1157.30" y="2246.40" font-size="38" text-anchor="middle" font-weight="bold">p-Cresol</text>
<path d="M457.4 1821.1H410.3V2175.6H457.4M387.4 1987H410.3" fill="none" stroke="#000" stroke-width="1.4"/>
<path d="M817.3 1843.6H1012" stroke="#fb1d10" stroke-width="9" fill="none"/><path d="M989 1828.1L1011.5 1843.6L989 1859.1" stroke="#fb1d10" stroke-width="9" fill="none" stroke-linecap="round" stroke-linejoin="miter"/>
<path d="M812.9 2128.4H1012" stroke="#fb1d10" stroke-width="9" fill="none"/><path d="M989 2112.9L1011.5 2128.4L989 2143.9" stroke="#fb1d10" stroke-width="9" fill="none" stroke-linecap="round" stroke-linejoin="miter"/>
<path d="M1275.2 1838.3H1469" stroke="#000" stroke-width="9.6" fill="none"/><path d="M1445 1822.8L1468.5 1838.3L1445 1853.8" stroke="#000" stroke-width="9.6" fill="none" stroke-linecap="round" stroke-linejoin="miter"/>
<rect x="1803.1" y="1831.6" width="152" height="104.6" fill="none" stroke="#000" stroke-width="2" stroke-dasharray="12.6 12.8" stroke-dashoffset="1.5"/>
<rect x="1813.10" y="1857.00" width="42.90" height="14.70" fill="#9cc6f8" stroke="#000" stroke-width="2"/>
<rect x="1813.10" y="1903.40" width="42.90" height="14.40" fill="#f0be80" stroke="#000" stroke-width="2"/>
<text x="1863.00" y="1874.40" font-size="33.3" font-weight="bold">MOD</text>
<text x="1863.50" y="1921.20" font-size="33.3" font-weight="bold">SMD</text>
<path d="M531.79 1783.40L567.26 1789.61M567.26 1789.61L578.42 1821.85M578.42 1821.85L554.86 1847.89M554.86 1847.89L521.38 1842.19M521.38 1842.19L509.72 1809.45M509.72 1809.45L531.79 1783.40M536.26 1790.35L563.04 1795.06M571.48 1823.83L554.36 1842.19M526.34 1836.23L517.66 1811.93M578.42 1821.85L610.67 1834.75M610.67 1834.75L606.20 1869.72M606.20 1869.72L584.62 1875.92M564.78 1863.27L554.86 1847.89M603.97 1838.47L600.75 1865.25M610.67 1834.75L640.43 1818.87M640.43 1818.87L671.43 1835.49M671.43 1835.49L702.44 1818.87M699.46 1818.87L699.46 1785.89M705.41 1818.87L705.41 1785.89M702.44 1818.87L732.20 1835.49" fill="none" stroke="#222" stroke-width="1.9" stroke-linecap="round" stroke-linejoin="round"/>
<path d="M671.43 1835.49L668.21 1866.99L674.91 1866.99Z" fill="#222"/>
<text x="702.44" y="1779.68" font-size="22.5" text-anchor="middle" fill="#e0262e" stroke="#e0262e" stroke-width="0.5">O</text>
<text x="738.90" y="1844.17" font-size="22.5"><tspan fill="#e0262e" stroke="#e0262e" stroke-width="0.5">O</tspan><tspan fill="#333" stroke="#333" stroke-width="0.5">H</tspan></text>
<text x="547.67" y="1887.58" font-size="22.5"><tspan fill="#333" stroke="#333" stroke-width="0.5">H</tspan><tspan fill="#2a6fbb" stroke="#2a6fbb" stroke-width="0.5">N</tspan></text>
<text x="665.73" y="1890.55" font-size="22.5"><tspan fill="#2a6fbb" stroke="#2a6fbb" stroke-width="0.5">N</tspan><tspan fill="#333" stroke="#333" stroke-width="0.5">H</tspan><tspan fill="#333" font-size="13" dy="9.5">2</tspan></text>
<path d="M579.66 2106.89L610.17 2124.25M610.17 2124.25L610.17 2159.72M610.17 2159.72L579.66 2178.07M579.66 2178.07L548.66 2160.71M548.66 2160.71L548.66 2124.25M548.66 2124.25L579.66 2106.89M580.90 2114.83L603.23 2127.48M603.23 2156.00L580.90 2169.39M555.60 2128.22L555.60 2156.49M548.66 2160.71L518.40 2178.07M610.17 2124.25L640.43 2108.13M640.43 2108.13L670.19 2124.75M670.19 2124.75L700.70 2108.13M697.72 2108.13L697.72 2074.65M703.68 2108.13L703.68 2074.65M700.70 2108.13L727.24 2124.75" fill="none" stroke="#222" stroke-width="1.9" stroke-linecap="round" stroke-linejoin="round"/>
<path d="M670.19 2124.75L666.97 2156.49L673.67 2156.49Z" fill="#222"/>
<text x="700.70" y="2068.44" font-size="22.5" text-anchor="middle" fill="#e0262e" stroke="#e0262e" stroke-width="0.5">O</text>
<text x="736.42" y="2132.93" font-size="22.5"><tspan fill="#e0262e" stroke="#e0262e" stroke-width="0.5">O</tspan><tspan fill="#333" stroke="#333" stroke-width="0.5">H</tspan></text>
<text x="478.72" y="2187.75" font-size="22.5"><tspan fill="#333" stroke="#333" stroke-width="0.5">H</tspan><tspan fill="#e0262e" stroke="#e0262e" stroke-width="0.5">O</tspan></text>
<text x="664.49" y="2179.81" font-size="22.5"><tspan fill="#2a6fbb" stroke="#2a6fbb" stroke-width="0.5">N</tspan><tspan fill="#333" stroke="#333" stroke-width="0.5">H</tspan><tspan fill="#333" font-size="13" dy="9.5">2</tspan></text>
<path d="M1114.81 1757.73L1160.41 1784.52M1160.41 1784.52L1160.41 1838.23M1160.41 1838.23L1114.81 1865.29M1114.81 1865.29L1068.68 1838.23M1068.68 1838.23L1068.68 1784.52M1068.68 1784.52L1114.81 1757.73M1117.38 1766.53L1151.61 1786.55M1151.61 1836.88L1117.79 1856.49M1075.45 1792.23L1075.45 1830.79M1160.41 1784.52L1210.73 1768.96M1210.73 1768.96L1241.58 1811.58M1241.58 1811.58L1226.43 1834.44M1160.41 1838.23L1187.46 1846.35M1209.11 1777.62L1231.84 1809.14" fill="none" stroke="#2a2a2a" stroke-width="1.5" stroke-linecap="round" stroke-linejoin="round"/>
<path d="M1226.43 1834.44L1219.93 1841.21M1187.46 1846.35L1198.96 1850.81M1213.84 1863.26L1215.87 1868.67" fill="none" stroke="#2020ff" stroke-width="1.25" stroke-linecap="round" stroke-linejoin="round"/>
<text x="1209.79" y="1859.60" font-size="20.5" text-anchor="middle" font-weight="bold" fill="#1010f0">N</text>
<text x="1219.93" y="1890.99" font-size="20.5" text-anchor="middle" font-weight="bold" fill="#5f8f8a">H</text>
<path d="M1559.36 1806.26L1592.04 1824.58M1592.04 1824.58L1592.04 1862.25M1592.04 1862.25L1559.36 1881.74M1559.36 1881.74L1526.67 1862.25M1526.67 1862.25L1526.67 1824.58M1526.67 1824.58L1559.36 1806.26M1561.56 1812.56L1586.18 1826.34M1586.18 1861.22L1561.56 1875.14M1531.07 1829.71L1531.07 1857.56M1592.04 1824.58L1627.80 1813.15M1627.80 1813.15L1649.49 1843.34M1649.49 1843.34L1637.77 1859.75M1592.04 1862.25L1610.66 1867.81M1626.34 1819.74L1642.61 1841.43M1627.80 1813.15L1633.37 1795.27" fill="none" stroke="#2a2a2a" stroke-width="1.4" stroke-linecap="round" stroke-linejoin="round"/>
<path d="M1637.77 1859.75L1632.64 1864.44M1610.66 1867.81L1619.45 1871.48M1629.71 1881.01L1631.17 1885.40" fill="none" stroke="#2020ff" stroke-width="1.2" stroke-linecap="round" stroke-linejoin="round"/>
<path d="M1633.37 1795.27L1637.04 1783.54M1648.76 1775.48L1659.02 1774.01M1668.25 1744.70L1666.35 1739.57M1673.24 1743.97L1671.19 1738.84M1677.05 1787.94L1678.51 1796.73M1681.74 1787.21L1683.20 1796.00M1693.46 1766.39L1703.43 1763.75" fill="none" stroke="#ff2020" stroke-width="1.2" stroke-linecap="round" stroke-linejoin="round"/>
<path d="M1659.02 1774.01L1667.81 1772.11M1670.45 1752.47L1668.25 1744.70M1675.14 1751.59L1673.24 1743.97M1675.14 1777.39L1677.05 1787.94M1679.98 1776.51L1681.74 1787.21M1684.67 1768.59L1693.46 1766.39" fill="none" stroke="#c8d820" stroke-width="1.2" stroke-linecap="round" stroke-linejoin="round"/>
<path d="M1716.91 1752.03L1718.38 1747.63" fill="none" stroke="#5f8f8a" stroke-width="1.2" stroke-linecap="round" stroke-linejoin="round"/>
<text x="1627.22" y="1877.34" font-size="15.5" text-anchor="middle" font-weight="bold" fill="#1010f0">N</text>
<text x="1633.67" y="1899.62" font-size="15.5" text-anchor="middle" font-weight="bold" fill="#5f8f8a">H</text>
<text x="1638.50" y="1781.34" font-size="15.5" text-anchor="middle" font-weight="bold" fill="#ff1010">O</text>
<text x="1667.81" y="1736.64" font-size="15.5" text-anchor="middle" font-weight="bold" fill="#ff1010">O</text>
<text x="1683.50" y="1810.66" font-size="15.5" text-anchor="middle" font-weight="bold" fill="#ff1010">O</text>
<text x="1712.81" y="1765.95" font-size="15.5" text-anchor="middle" font-weight="bold" fill="#ff1010">O</text>
<text x="1675.88" y="1773.57" font-size="15.5" text-anchor="middle" font-weight="bold" fill="#c8d400">S</text>
<text x="1719.11" y="1744.26" font-size="15.5" text-anchor="middle" font-weight="bold" fill="#5f8f8a">H</text>
<path d="M1111.38 2120.79L1134.53 2077.55M1134.53 2077.55L1184.36 2077.55M1184.36 2077.55L1208.55 2120.79M1208.55 2120.79L1184.36 2163.59M1184.36 2163.59L1134.53 2163.59M1134.53 2163.59L1111.38 2120.79M1141.86 2084.00L1177.48 2084.00M1200.93 2122.99L1181.87 2155.23M1119.14 2122.99L1136.73 2155.23M1061.25 2120.79L1111.38 2120.79M1208.55 2120.79L1233.02 2120.79" fill="none" stroke="#2a2a2a" stroke-width="1.4" stroke-linecap="round" stroke-linejoin="round"/>
<path d="M1233.02 2120.79L1248.12 2120.79" fill="none" stroke="#ff2020" stroke-width="1.2" stroke-linecap="round" stroke-linejoin="round"/>
<path d="M1263.07 2133.83L1265.71 2136.18" fill="none" stroke="#5f8f8a" stroke-width="1.2" stroke-linecap="round" stroke-linejoin="round"/>
<text x="1251.90" y="2120.10" font-size="20" text-anchor="middle" fill="#ff1010" transform="rotate(90 1251.90 2120.10)" stroke="#ff1010" stroke-width="0.7">O</text>
<text x="1268.00" y="2146.10" font-size="20" text-anchor="middle" fill="#5f8f8a" transform="rotate(90 1268.00 2146.10)" stroke="#5f8f8a" stroke-width="0.7">H</text></g>
</svg>
</body></html>
